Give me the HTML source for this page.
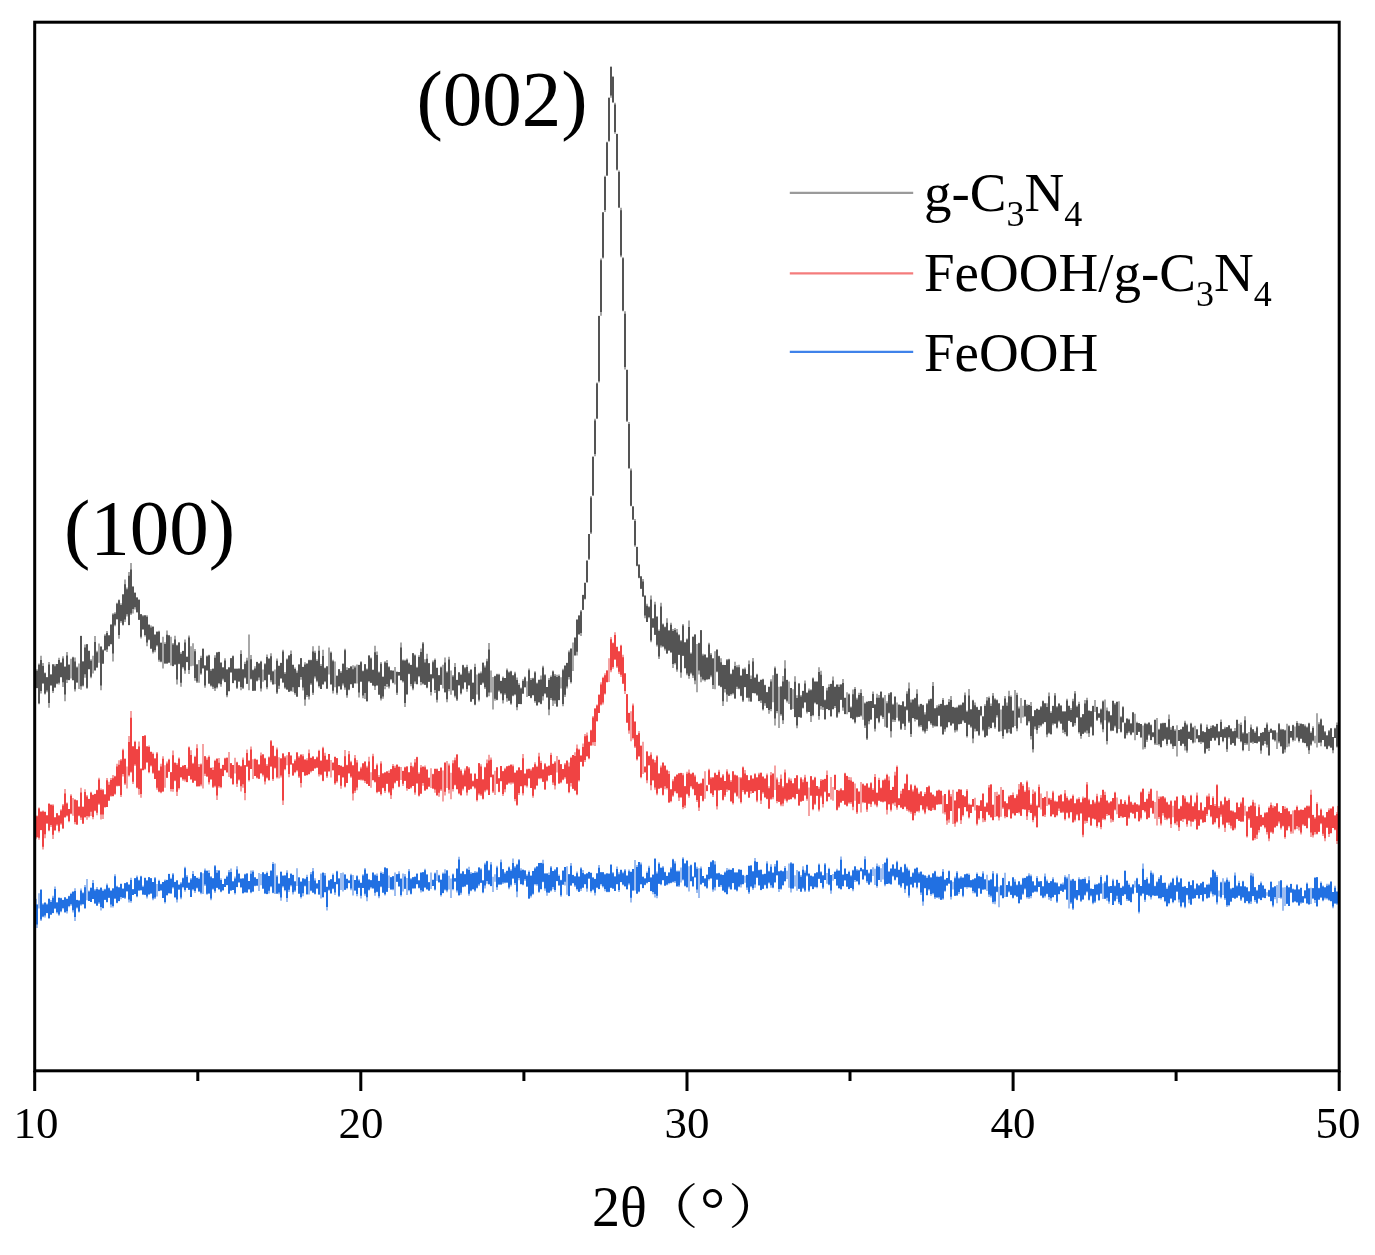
<!DOCTYPE html>
<html><head><meta charset="utf-8"><style>
html,body{margin:0;padding:0;background:#fff;}
svg{display:block;}
text{font-family:"Liberation Serif","Noto Serif CJK SC",serif;fill:#000;}
</style></head><body>
<svg width="1375" height="1255" viewBox="0 0 1375 1255">
<rect x="0" y="0" width="1375" height="1255" fill="#fff"/>
<g fill="none" stroke-linecap="butt" stroke-width="2">
<path d="M35.4,898.4V906.7M37.0,904.6V928.1M39.0,893.3V908.6M41.0,889.0V921.1M43.0,903.3V917.2M45.0,902.2V917.5M47.0,903.5V913.2M49.0,898.8V918.5M51.0,900.1V915.1M53.0,895.8V913.2M55.0,886.6V908.6M57.0,902.2V913.4M59.0,897.3V915.8M61.0,897.8V912.3M63.0,899.7V909.3M65.0,896.9V913.0M67.0,898.6V913.6M69.0,895.8V907.3M71.0,892.8V905.8M73.0,891.5V912.5M75.0,888.3V921.1M77.0,899.7V908.4M79.0,900.4V912.5M81.0,888.6V905.7M83.0,892.2V904.7M85.0,884.9V909.1M87.0,879.1V900.3M89.0,890.5V901.1M91.0,887.3V902.1M93.0,879.9V899.1M95.0,888.9V903.9M97.0,886.9V906.0M99.0,888.9V903.9M101.0,887.5V910.6M103.0,889.6V908.6M105.0,888.8V899.9M107.0,883.6V902.6M109.0,887.6V897.7M111.0,889.9V907.4M113.0,888.2V907.4M115.0,874.2V898.7M117.0,885.8V903.3M119.0,887.0V901.3M121.0,883.4V899.3M123.0,888.4V898.1M125.0,883.0V898.9M127.0,882.0V891.4M129.0,884.2V902.5M131.0,877.8V902.7M133.0,888.9V895.0M135.0,877.9V894.1M137.0,875.5V897.3M139.0,879.8V890.6M141.0,875.8V890.8M143.0,885.5V894.8M145.0,877.4V895.1M147.0,880.5V898.5M149.0,877.1V894.8M151.0,877.9V893.6M153.0,881.9V900.2M155.0,877.0V899.1M157.0,884.1V896.5M159.0,879.8V891.3M161.0,883.8V890.7M163.0,882.0V898.0M165.0,879.6V903.5M167.0,879.8V895.3M169.0,873.8V893.7M171.0,877.7V894.0M173.0,873.0V888.4M175.0,881.7V897.9M177.0,880.0V902.4M179.0,884.6V889.7M181.0,882.0V899.2M183.0,877.5V888.3M185.0,866.7V891.8M187.0,874.9V888.1M189.0,882.5V890.0M191.0,878.0V897.1M193.0,870.9V890.6M195.0,875.9V892.9M197.0,877.5V888.4M199.0,877.5V891.9M201.0,872.1V894.3M203.0,873.3V893.9M205.0,868.6V886.0M207.0,870.2V894.7M209.0,870.2V894.1M211.0,876.1V900.3M213.0,878.2V889.7M215.0,864.9V893.0M217.0,870.1V888.1M219.0,869.9V889.5M221.0,878.2V892.2M223.0,884.0V890.4M225.0,878.4V887.1M227.0,875.6V885.3M229.0,870.1V893.9M231.0,868.6V890.6M233.0,881.1V890.1M235.0,876.6V894.5M237.0,866.3V887.3M239.0,872.9V882.8M241.0,878.1V887.9M243.0,878.3V893.3M245.0,873.7V892.6M247.0,873.5V893.1M249.0,880.9V889.6M251.0,870.6V893.2M253.0,870.3V891.7M255.0,877.1V886.3M257.0,878.8V886.0M259.0,873.0V891.0M261.0,874.1V885.2M263.0,871.9V889.0M265.0,873.7V893.6M267.0,871.5V894.3M269.0,875.9V893.5M271.0,869.9V887.2M273.0,862.0V893.3M275.0,863.6V894.1M277.0,875.1V894.0M279.0,883.6V894.3M281.0,871.7V900.7M283.0,875.5V887.6M285.0,875.4V891.2M287.0,870.3V902.1M289.0,878.1V892.0M291.0,873.4V886.5M293.0,874.8V894.6M295.0,881.0V891.9M297.0,868.3V886.0M299.0,877.2V893.9M301.0,881.4V898.4M303.0,878.2V896.2M305.0,878.6V886.4M307.0,874.8V894.5M309.0,881.1V894.5M311.0,871.9V891.2M313.0,867.9V892.9M315.0,878.3V894.6M317.0,883.4V888.6M319.0,879.9V894.5M321.0,873.5V898.6M323.0,872.6V897.3M325.0,872.9V892.4M327.0,886.6V910.6M329.0,880.5V890.7M331.0,879.3V893.8M333.0,873.6V889.3M335.0,881.8V895.0M337.0,870.7V884.5M339.0,878.4V897.1M341.0,873.1V890.0M343.0,872.4V891.5M345.0,873.9V890.0M347.0,878.4V889.3M349.0,880.4V883.3M351.0,873.8V890.2M353.0,875.1V895.6M355.0,880.0V890.5M357.0,875.2V896.3M359.0,879.3V887.8M361.0,882.5V898.5M363.0,874.2V888.1M365.0,868.1V895.7M367.0,873.7V901.2M369.0,879.1V890.5M371.0,880.1V888.6M373.0,872.3V888.7M375.0,874.2V895.7M377.0,873.5V892.3M379.0,880.7V898.2M381.0,871.6V887.2M383.0,872.2V892.9M385.0,867.0V895.4M387.0,867.9V892.1M389.0,875.6V887.9M391.0,876.9V889.9M393.0,876.3V890.3M395.0,872.6V896.1M397.0,874.0V882.0M399.0,871.3V886.8M401.0,878.4V896.4M403.0,873.6V891.6M405.0,873.9V889.0M407.0,878.1V895.1M409.0,869.0V891.3M411.0,878.1V894.5M413.0,877.0V888.7M415.0,876.8V889.0M417.0,873.5V884.6M419.0,879.9V888.6M421.0,872.0V892.6M423.0,872.1V891.9M425.0,868.7V888.1M427.0,874.1V889.4M429.0,882.2V890.8M431.0,872.6V889.1M433.0,879.5V886.0M435.0,872.5V890.4M437.0,870.1V881.1M439.0,874.7V882.4M441.0,879.7V896.4M443.0,872.6V893.3M445.0,869.3V890.5M447.0,870.3V892.2M449.0,875.8V889.4M451.0,878.4V898.1M453.0,873.5V890.3M455.0,878.1V881.6M457.0,868.1V892.5M459.0,856.7V895.4M461.0,873.0V894.7M463.0,870.9V887.2M465.0,874.2V886.7M467.0,868.2V885.1M469.0,866.7V895.7M471.0,871.9V891.2M473.0,872.7V889.3M475.0,871.1V891.8M477.0,871.5V888.4M479.0,867.4V885.9M481.0,868.2V883.0M483.0,880.0V893.2M485.0,862.7V888.6M487.0,860.8V883.8M489.0,869.8V884.2M491.0,862.0V886.2M493.0,876.8V892.0M495.0,874.2V881.8M497.0,865.8V890.1M499.0,877.2V884.6M501.0,859.5V884.6M503.0,868.9V883.9M505.0,872.0V883.2M507.0,870.6V882.7M509.0,866.6V889.2M511.0,869.2V886.6M513.0,858.4V878.5M515.0,866.0V885.1M517.0,863.8V897.2M519.0,859.1V880.2M521.0,868.2V884.6M523.0,869.7V885.3M525.0,870.2V880.9M527.0,874.3V886.8M529.0,870.6V898.8M531.0,875.5V897.5M533.0,871.0V894.7M535.0,867.3V885.3M537.0,866.4V885.8M539.0,863.1V892.8M541.0,862.8V889.6M543.0,859.7V882.3M545.0,873.4V890.7M547.0,873.5V895.7M549.0,872.6V892.9M551.0,866.0V891.4M553.0,870.9V889.2M555.0,869.0V892.0M557.0,867.1V881.2M559.0,874.5V885.7M561.0,879.8V896.7M563.0,870.5V885.0M565.0,866.9V885.4M567.0,866.2V894.7M569.0,874.1V896.3M571.0,863.0V885.5M573.0,874.8V883.4M575.0,876.0V886.9M577.0,871.5V890.4M579.0,876.3V892.1M581.0,867.3V891.0M583.0,870.1V888.1M585.0,874.1V884.4M587.0,873.2V891.7M589.0,871.8V878.7M591.0,872.6V892.5M593.0,877.4V890.6M595.0,878.7V895.5M597.0,872.9V887.9M599.0,865.1V889.3M601.0,872.2V885.6M603.0,872.2V887.5M605.0,873.8V891.3M607.0,873.3V892.2M609.0,873.6V892.2M611.0,864.0V887.8M613.0,872.1V888.8M615.0,876.6V891.1M617.0,866.4V884.4M619.0,872.3V892.0M621.0,869.4V882.3M623.0,871.8V885.3M625.0,869.0V886.5M627.0,875.3V889.8M629.0,869.6V885.3M631.0,871.6V902.6M633.0,868.9V890.6M635.0,859.9V890.6M637.0,865.0V893.9M639.0,862.1V892.2M641.0,862.4V884.2M643.0,876.2V888.2M645.0,878.3V885.2M647.0,871.6V883.5M649.0,865.8V882.0M651.0,876.9V891.3M653.0,874.6V894.3M655.0,858.1V897.6M657.0,871.5V898.3M659.0,862.2V884.1M661.0,867.7V885.2M663.0,866.1V880.4M665.0,871.8V886.0M667.0,875.8V885.2M669.0,872.4V884.3M671.0,867.0V883.2M673.0,858.8V882.5M675.0,861.3V883.1M677.0,870.4V886.5M679.0,870.6V886.9M681.0,867.5V882.4M683.0,857.2V880.6M685.0,863.5V886.5M687.0,860.1V887.7M689.0,866.2V891.4M691.0,864.5V881.5M693.0,876.0V887.0M695.0,861.9V877.6M697.0,866.8V893.0M699.0,868.2V898.0M701.0,866.6V884.8M703.0,875.9V882.9M705.0,878.4V886.8M707.0,874.3V888.8M709.0,867.0V880.6M711.0,861.6V878.7M713.0,859.9V891.8M715.0,861.3V890.4M717.0,873.3V880.0M719.0,872.7V886.7M721.0,874.1V886.7M723.0,874.8V890.8M725.0,871.4V892.2M727.0,868.1V894.4M729.0,868.8V888.5M731.0,869.5V890.1M733.0,868.2V883.3M735.0,872.5V890.0M737.0,872.4V891.5M739.0,869.4V887.2M741.0,869.4V887.6M743.0,874.8V884.5M745.0,875.7V882.7M747.0,874.8V889.9M749.0,865.5V894.0M751.0,865.5V887.3M753.0,871.0V890.1M755.0,858.0V887.8M757.0,861.7V877.9M759.0,869.8V885.9M761.0,869.8V890.3M763.0,873.9V889.0M765.0,873.4V885.6M767.0,861.2V889.0M769.0,870.7V883.6M771.0,864.3V887.8M773.0,872.4V888.2M775.0,863.9V883.1M777.0,860.0V875.7M779.0,871.0V891.9M781.0,870.1V889.7M783.0,871.1V885.8M785.0,865.9V881.3M787.0,870.7V879.0M789.0,863.6V887.8M791.0,862.1V892.6M793.0,863.1V888.9M795.0,875.3V886.6M797.0,870.0V890.7M799.0,871.1V888.9M801.0,874.9V892.1M803.0,866.3V888.9M805.0,870.4V892.1M807.0,864.4V876.6M809.0,873.1V891.9M811.0,875.7V886.7M813.0,876.4V889.3M815.0,873.0V887.6M817.0,872.3V888.2M819.0,863.6V878.7M821.0,871.3V883.0M823.0,875.0V888.9M825.0,863.0V879.9M827.0,873.1V883.8M829.0,867.8V885.2M831.0,875.1V893.8M833.0,874.1V880.7M835.0,871.2V879.1M837.0,868.7V886.1M839.0,870.6V888.7M841.0,856.5V889.7M843.0,874.6V886.6M845.0,868.2V880.6M847.0,873.8V887.1M849.0,870.7V889.3M851.0,875.1V887.9M853.0,869.7V891.2M855.0,866.2V882.0M857.0,869.1V881.4M859.0,869.8V885.3M861.0,867.6V871.3M863.0,869.3V879.8M865.0,856.3V876.2M867.0,869.5V883.1M869.0,872.5V884.8M871.0,869.3V882.7M873.0,867.3V876.1M875.0,868.8V885.1M877.0,863.5V887.8M879.0,865.6V879.9M881.0,868.2V882.0M883.0,864.0V879.5M885.0,862.6V886.3M887.0,857.5V884.0M889.0,871.3V884.0M891.0,868.2V884.5M893.0,863.9V876.8M895.0,868.3V880.4M897.0,860.7V877.2M899.0,869.5V885.2M901.0,866.8V888.0M903.0,871.8V883.4M905.0,863.8V893.0M907.0,866.7V886.3M909.0,869.6V897.7M911.0,876.6V884.5M913.0,872.2V888.0M915.0,868.3V883.1M917.0,867.6V888.5M919.0,871.9V882.7M921.0,871.6V895.1M923.0,874.6V905.7M925.0,875.1V888.4M927.0,876.2V895.6M929.0,874.6V890.6M931.0,877.4V895.8M933.0,873.3V894.4M935.0,870.8V898.9M937.0,875.8V897.4M939.0,876.5V898.8M941.0,875.7V900.0M943.0,869.1V899.7M945.0,879.5V891.7M947.0,878.1V885.5M949.0,870.4V883.8M951.0,880.1V899.4M953.0,881.7V889.6M955.0,876.4V896.0M957.0,870.9V896.0M959.0,877.5V893.9M961.0,876.0V889.0M963.0,877.4V897.3M965.0,874.1V887.4M967.0,873.7V888.7M969.0,873.4V887.7M971.0,880.1V888.1M973.0,879.5V893.3M975.0,878.1V893.6M977.0,872.6V896.8M979.0,876.2V888.4M981.0,876.5V894.0M983.0,871.3V889.7M985.0,879.0V889.5M987.0,874.7V890.9M989.0,880.4V896.9M991.0,879.4V897.5M993.0,871.0V903.7M995.0,886.1V904.3M997.0,873.0V892.3M999.0,886.7V907.2M1001.0,885.2V895.8M1003.0,877.7V898.6M1005.0,872.7V896.9M1007.0,885.1V896.9M1009.0,881.0V892.4M1011.0,885.6V895.0M1013.0,876.9V898.6M1015.0,879.2V895.4M1017.0,884.6V896.9M1019.0,881.1V903.8M1021.0,883.8V899.6M1023.0,877.7V894.9M1025.0,877.8V889.4M1027.0,876.2V898.5M1029.0,873.2V898.9M1031.0,874.4V898.3M1033.0,881.2V892.6M1035.0,885.6V891.8M1037.0,876.0V892.3M1039.0,881.4V887.1M1041.0,881.1V895.6M1043.0,885.9V898.2M1045.0,873.6V897.5M1047.0,879.6V894.2M1049.0,882.8V899.8M1051.0,881.0V901.0M1053.0,877.3V897.5M1055.0,882.1V895.1M1057.0,882.3V903.0M1059.0,886.2V894.5M1061.0,883.5V890.8M1063.0,882.6V892.0M1065.0,875.3V890.1M1067.0,876.8V899.8M1069.0,874.1V908.5M1071.0,879.5V904.0M1073.0,878.8V910.0M1075.0,880.5V899.0M1077.0,890.0V900.2M1079.0,877.3V896.2M1081.0,879.4V902.1M1083.0,878.8V899.9M1085.0,877.2V895.7M1087.0,883.0V892.4M1089.0,876.3V900.6M1091.0,888.5V896.4M1093.0,889.1V904.3M1095.0,883.8V902.9M1097.0,884.1V895.3M1099.0,882.8V900.6M1101.0,875.1V893.5M1103.0,883.4V898.9M1105.0,881.1V898.8M1107.0,874.7V900.8M1109.0,886.6V903.7M1111.0,885.9V893.1M1113.0,878.8V905.1M1115.0,885.6V901.5M1117.0,879.5V899.1M1119.0,882.8V904.0M1121.0,887.6V905.2M1123.0,885.7V896.0M1125.0,870.7V894.7M1127.0,880.2V901.1M1129.0,883.6V901.0M1131.0,886.7V902.4M1133.0,884.5V894.2M1135.0,880.7V887.6M1137.0,877.7V892.8M1139.0,884.1V913.6M1141.0,885.9V896.3M1143.0,863.6V893.5M1145.0,879.8V902.0M1147.0,877.3V894.9M1149.0,882.8V896.2M1151.0,870.5V899.5M1153.0,872.8V895.9M1155.0,885.8V895.9M1157.0,881.2V895.9M1159.0,877.2V898.7M1161.0,874.9V899.6M1163.0,882.8V897.2M1165.0,882.3V902.3M1167.0,887.4V906.7M1169.0,883.4V904.2M1171.0,881.7V898.6M1173.0,877.7V903.3M1175.0,885.2V900.7M1177.0,875.6V891.7M1179.0,881.8V902.6M1181.0,878.5V907.4M1183.0,886.6V903.1M1185.0,886.1V908.3M1187.0,888.0V895.5M1189.0,881.3V903.2M1191.0,885.0V905.1M1193.0,880.1V898.7M1195.0,887.9V898.4M1197.0,883.4V895.2M1199.0,885.2V899.1M1201.0,883.0V895.1M1203.0,881.5V901.8M1205.0,886.9V894.3M1207.0,884.6V898.5M1209.0,883.5V897.6M1211.0,877.4V893.6M1213.0,869.6V896.5M1215.0,871.3V895.6M1217.0,874.9V904.6M1219.0,890.6V896.5M1221.0,881.7V898.4M1223.0,878.3V894.9M1225.0,881.3V900.0M1227.0,877.5V907.0M1229.0,880.5V906.2M1231.0,887.9V901.8M1233.0,887.4V898.0M1235.0,872.4V898.8M1237.0,885.2V897.8M1239.0,880.7V895.9M1241.0,885.9V900.9M1243.0,880.7V897.9M1245.0,886.6V903.3M1247.0,887.2V901.3M1249.0,891.0V904.2M1251.0,872.7V904.1M1253.0,873.5V896.3M1255.0,886.9V902.0M1257.0,889.7V903.9M1259.0,884.8V898.7M1261.0,881.4V900.3M1263.0,885.5V897.5M1265.0,888.4V898.2M1267.0,892.3V895.8M1269.0,889.7V897.1M1271.0,881.2V901.4M1273.0,887.3V907.2M1275.0,886.0V899.2M1277.0,885.1V903.2M1279.0,881.2V898.1M1281.0,880.1V898.8M1283.0,887.4V910.8M1285.0,887.3V905.9M1287.0,884.7V903.9M1289.0,887.3V906.1M1291.0,883.8V892.7M1293.0,888.4V902.4M1295.0,889.2V901.8M1297.0,883.9V903.1M1299.0,889.4V905.9M1301.0,887.5V903.7M1303.0,895.9V903.1M1305.0,890.3V898.5M1307.0,882.4V903.8M1309.0,888.0V904.8M1311.0,887.7V904.0M1313.0,888.1V898.6M1315.0,877.5V903.0M1317.0,877.1V907.1M1319.0,887.8V900.0M1321.0,881.6V897.9M1323.0,885.4V901.3M1325.0,887.1V899.4M1327.0,883.7V899.6M1329.0,883.7V900.7M1331.0,881.2V901.4M1333.0,892.1V908.3M1335.0,885.8V903.9M1337.0,891.3V904.7M1338.6,891.3V899.0" stroke="#9dbdf0"/>
<path d="M35.4,898.9V906.1M37.0,904.6V924.5M41.0,890.1V919.4M43.0,904.4V916.4M45.0,902.8V915.6M47.0,904.4V913.1M49.0,898.8V918.2M51.0,902.1V914.5M53.0,897.8V913.1M55.0,888.9V908.5M57.0,902.6V912.2M59.0,898.0V914.5M61.0,898.3V911.2M63.0,900.0V908.1M65.0,897.6V912.1M67.0,898.9V911.2M69.0,896.3V906.1M71.0,894.0V904.2M73.0,891.8V910.2M75.0,891.0V917.1M77.0,900.1V907.6M79.0,900.4V911.5M81.0,890.6V904.4M83.0,893.2V903.9M85.0,887.3V907.9M89.0,891.4V900.9M91.0,887.9V901.9M93.0,883.0V899.0M95.0,890.4V903.2M97.0,888.9V905.5M99.0,889.9V902.5M101.0,887.8V907.1M103.0,890.9V908.1M105.0,889.5V899.8M107.0,885.3V901.9M109.0,888.3V897.7M111.0,890.9V904.6M113.0,888.6V906.0M115.0,876.2V898.6M117.0,886.7V902.8M119.0,887.6V901.0M121.0,884.0V897.0M123.0,888.8V897.7M125.0,883.2V897.8M127.0,882.6V891.3M129.0,884.7V899.4M131.0,880.1V901.1M133.0,889.2V894.9M135.0,878.3V894.0M137.0,877.2V896.3M139.0,880.5V890.4M141.0,876.4V890.1M143.0,886.8V894.5M145.0,878.1V894.7M147.0,880.5V896.4M149.0,877.2V894.2M151.0,878.2V893.4M153.0,882.0V898.4M155.0,878.3V897.5M159.0,881.1V891.1M161.0,884.2V890.3M163.0,882.1V897.9M165.0,880.8V902.0M167.0,880.0V895.2M169.0,873.9V893.1M171.0,879.0V893.3M173.0,874.4V887.3M175.0,881.9V896.9M177.0,880.5V899.4M179.0,884.7V889.5M181.0,883.4V897.4M183.0,878.2V887.1M185.0,868.3V889.9M187.0,876.7V887.7M189.0,882.8V889.7M191.0,879.4V897.0M193.0,874.1V889.3M195.0,876.0V891.1M197.0,877.9V887.8M199.0,878.9V891.3M201.0,872.4V892.8M205.0,870.6V884.6M207.0,871.1V893.8M209.0,873.1V893.3M211.0,877.3V898.6M213.0,878.2V888.7M215.0,866.3V891.2M217.0,872.7V887.7M219.0,870.8V889.2M221.0,880.0V891.4M223.0,884.1V890.3M225.0,878.9V886.9M227.0,876.8V884.9M229.0,872.3V893.4M231.0,872.0V890.4M233.0,881.5V890.0M235.0,878.4V893.0M237.0,869.5V886.9M239.0,873.9V882.3M241.0,878.9V887.1M243.0,878.6V893.2M245.0,874.4V892.2M247.0,873.6V892.2M249.0,881.1V889.2M251.0,873.7V892.3M253.0,871.8V891.6M255.0,877.6V885.8M257.0,878.9V885.6M263.0,872.6V888.6M265.0,874.2V893.5M267.0,872.9V894.1M269.0,876.1V890.7M271.0,870.9V886.2M273.0,864.1V892.8M277.0,876.4V893.4M279.0,883.7V892.5M281.0,871.7V897.4M283.0,875.8V886.3M285.0,875.5V890.0M287.0,872.8V898.0M289.0,878.3V889.7M291.0,873.7V885.2M293.0,875.0V892.3M295.0,881.5V890.4M299.0,877.5V893.6M301.0,881.7V897.0M303.0,878.6V893.3M305.0,879.2V885.7M307.0,876.9V894.3M311.0,874.2V890.4M313.0,871.2V892.4M315.0,880.4V893.7M317.0,883.5V888.4M319.0,880.1V894.4M323.0,872.8V897.2M325.0,875.4V892.0M327.0,887.1V907.1M329.0,880.6V889.7M331.0,879.3V893.2M333.0,875.0V888.5M335.0,882.1V892.6M337.0,871.4V884.1M339.0,878.4V895.7M345.0,874.7V889.7M347.0,878.9V888.0M349.0,880.5V883.1M351.0,875.2V888.5M355.0,880.0V890.4M357.0,876.2V893.9M359.0,880.4V887.8M361.0,883.1V895.8M363.0,875.4V887.9M365.0,869.6V893.7M367.0,873.8V897.2M369.0,879.7V889.8M371.0,880.2V887.3M373.0,872.8V888.2M375.0,875.3V892.7M377.0,875.8V891.8M379.0,881.1V896.2M381.0,873.0V886.6M383.0,873.9V892.4M385.0,867.7V894.2M387.0,868.4V891.7M391.0,877.3V889.3M393.0,876.3V889.3M397.0,874.2V881.7M399.0,873.7V886.2M401.0,878.7V895.0M405.0,876.6V888.8M409.0,871.2V890.1M411.0,879.2V893.7M413.0,877.3V888.2M415.0,876.8V887.9M417.0,873.7V884.0M419.0,880.5V887.7M421.0,873.0V890.3M423.0,872.2V891.0M425.0,870.2V887.3M427.0,874.8V889.3M429.0,882.2V890.6M433.0,880.0V886.0M435.0,873.5V889.4M439.0,875.4V882.3M441.0,879.7V895.0M443.0,873.8V893.1M445.0,873.4V889.4M447.0,870.5V890.6M453.0,874.6V889.0M455.0,878.3V881.4M457.0,868.9V890.4M459.0,859.6V895.2M461.0,874.1V892.8M463.0,871.5V886.8M465.0,874.2V886.3M467.0,869.3V884.6M469.0,869.9V893.7M471.0,873.7V890.6M473.0,872.9V889.2M475.0,872.7V890.4M477.0,872.4V887.8M479.0,867.6V884.5M481.0,869.6V882.8M483.0,880.5V892.3M485.0,864.4V885.5M487.0,861.3V880.9M489.0,870.4V884.2M491.0,864.5V886.0M497.0,867.4V887.2M499.0,877.3V884.6M501.0,862.3V884.5M503.0,869.3V882.4M505.0,873.5V882.6M507.0,871.0V882.5M509.0,867.4V887.4M511.0,870.8V884.7M513.0,862.9V878.4M515.0,867.5V883.1M517.0,864.8V891.5M519.0,860.3V877.9M521.0,870.4V884.0M523.0,869.8V884.6M525.0,870.6V879.2M527.0,875.8V886.5M529.0,872.1V898.5M531.0,875.8V895.8M533.0,871.0V893.7M535.0,868.6V883.9M537.0,866.6V884.3M539.0,863.1V891.8M541.0,862.9V889.1M543.0,863.5V881.7M545.0,873.4V888.5M547.0,873.5V892.5M549.0,875.1V892.6M551.0,867.6V890.4M553.0,871.1V886.9M555.0,870.2V890.1M557.0,867.6V881.1M559.0,876.1V885.2M561.0,880.3V895.2M563.0,870.7V884.6M565.0,867.1V881.7M569.0,874.3V895.9M571.0,865.8V885.4M573.0,875.1V883.0M575.0,876.6V885.6M577.0,873.2V889.1M579.0,876.7V891.8M581.0,868.4V888.7M583.0,872.9V887.5M585.0,874.6V883.9M587.0,873.6V888.4M589.0,872.0V878.6M591.0,873.1V891.0M593.0,877.4V889.4M595.0,879.0V892.8M597.0,873.5V887.6M599.0,867.7V889.0M601.0,872.2V884.0M603.0,872.3V886.3M605.0,874.4V888.9M607.0,873.5V891.7M609.0,873.7V891.7M611.0,865.0V887.7M613.0,873.2V888.4M615.0,876.6V891.1M617.0,868.9V883.9M619.0,874.2V890.1M621.0,870.1V882.0M623.0,873.3V884.6M625.0,870.5V886.2M627.0,875.8V889.0M629.0,871.3V883.4M631.0,872.0V897.8M633.0,869.0V890.4M637.0,867.1V893.5M639.0,862.1V891.6M641.0,864.5V884.2M643.0,877.0V887.9M645.0,878.5V884.8M647.0,872.9V882.8M649.0,867.8V882.0M651.0,877.8V890.9M653.0,874.8V891.9M655.0,859.0V893.9M657.0,873.5V895.8M659.0,863.7V883.8M661.0,867.8V884.2M663.0,867.4V880.1M665.0,872.3V885.6M667.0,876.0V884.4M669.0,872.5V883.1M671.0,868.4V882.7M673.0,859.4V881.8M675.0,863.5V881.3M677.0,871.5V886.3M679.0,871.4V885.5M683.0,858.8V879.5M685.0,863.5V885.7M687.0,861.0V887.1M691.0,865.2V881.1M693.0,876.9V886.0M695.0,862.7V877.2M697.0,868.7V889.4M701.0,868.4V884.2M703.0,876.0V882.8M705.0,878.5V886.0M707.0,874.9V887.7M709.0,867.0V879.1M711.0,862.2V878.3M713.0,860.4V889.5M715.0,864.5V887.3M717.0,873.5V879.4M719.0,873.3V886.7M721.0,874.7V885.1M723.0,875.0V890.4M725.0,872.5V892.2M727.0,870.5V893.9M729.0,869.9V886.8M731.0,869.9V889.1M733.0,868.3V883.1M735.0,872.5V889.3M737.0,872.4V890.5M739.0,869.4V886.5M741.0,870.1V884.5M743.0,875.2V884.1M747.0,875.1V887.5M749.0,866.1V892.3M751.0,865.5V886.2M753.0,871.6V888.3M755.0,861.2V884.6M757.0,861.9V877.4M759.0,870.3V885.0M761.0,869.8V890.0M763.0,874.4V888.8M765.0,874.1V884.8M767.0,863.5V887.9M769.0,871.6V882.5M771.0,866.7V885.2M773.0,872.7V887.4M775.0,866.4V882.1M777.0,861.0V875.1M779.0,871.6V888.9M781.0,870.9V888.7M783.0,871.6V885.1M785.0,868.1V881.2M791.0,863.3V888.4M793.0,864.0V888.3M799.0,871.8V888.8M801.0,876.7V891.6M803.0,869.7V887.7M805.0,872.7V890.4M807.0,864.9V875.4M809.0,874.0V890.6M811.0,875.8V886.1M813.0,876.4V888.9M815.0,873.5V886.7M817.0,872.5V886.9M819.0,864.8V878.7M821.0,872.2V883.0M823.0,875.6V887.5M825.0,864.4V879.9M829.0,868.9V884.4M831.0,875.1V890.6M835.0,871.9V879.0M837.0,870.4V885.2M839.0,870.8V888.1M841.0,859.7V889.0M843.0,874.8V885.9M845.0,868.8V880.2M847.0,874.1V886.4M849.0,872.0V888.9M851.0,876.3V887.9M853.0,870.5V889.2M855.0,866.5V880.1M857.0,870.4V881.3M859.0,870.5V884.2M861.0,868.1V871.2M863.0,869.5V879.3M865.0,859.3V875.2M867.0,869.9V881.2M869.0,873.4V884.6M871.0,869.6V881.8M877.0,866.2V885.9M879.0,866.9V879.9M885.0,862.8V884.4M887.0,858.8V883.9M889.0,871.7V883.2M891.0,868.7V884.3M893.0,864.7V875.7M895.0,868.9V879.7M897.0,862.2V877.2M899.0,869.9V884.5M901.0,867.3V886.6M903.0,872.6V882.9M905.0,864.5V889.3M907.0,868.4V885.5M909.0,870.8V895.6M911.0,877.0V884.4M913.0,873.3V887.0M915.0,868.9V882.4M917.0,867.8V887.2M919.0,873.5V882.5M921.0,871.7V892.5M923.0,874.7V901.4M925.0,875.8V888.1M927.0,877.9V895.0M929.0,875.3V889.3M931.0,877.5V894.1M933.0,873.4V893.3M935.0,871.4V897.2M937.0,877.1V897.4M939.0,876.9V897.3M941.0,876.5V899.7M943.0,871.7V898.4M945.0,879.8V890.8M947.0,878.1V885.5M949.0,871.2V883.4M951.0,880.6V896.7M955.0,878.3V895.8M957.0,872.8V895.2M959.0,878.5V892.1M961.0,877.5V888.7M963.0,877.8V895.8M965.0,874.4V887.0M967.0,873.8V887.1M969.0,874.9V886.9M971.0,880.3V887.3M973.0,879.6V891.0M975.0,878.4V892.5M977.0,874.0V896.4M979.0,876.3V888.3M981.0,877.1V893.4M983.0,873.4V889.6M985.0,879.6V889.3M989.0,880.5V894.6M991.0,879.6V895.7M993.0,873.4V902.1M995.0,886.7V901.5M997.0,874.4V891.8M1001.0,885.6V894.9M1003.0,877.9V898.1M1007.0,885.1V896.7M1009.0,881.6V891.5M1011.0,886.3V894.7M1013.0,877.5V897.7M1015.0,881.8V895.2M1017.0,885.3V896.6M1019.0,881.5V902.9M1021.0,884.9V899.5M1023.0,878.4V893.8M1025.0,877.9V888.5M1027.0,876.6V896.9M1029.0,875.4V897.2M1031.0,876.2V895.9M1033.0,881.6V892.4M1035.0,885.6V891.6M1037.0,877.9V891.5M1039.0,881.5V887.1M1041.0,881.2V895.5M1043.0,886.4V897.6M1045.0,876.4V895.7M1047.0,881.2V893.8M1049.0,883.0V897.1M1051.0,881.3V898.2M1053.0,879.2V896.9M1055.0,882.7V894.7M1057.0,883.3V901.4M1059.0,886.4V894.0M1061.0,884.2V890.7M1063.0,884.4V891.8M1065.0,877.2V889.3M1067.0,878.5V899.4M1071.0,880.8V902.4M1073.0,879.2V908.5M1075.0,880.9V897.7M1077.0,890.1V899.8M1079.0,879.2V894.9M1081.0,879.5V900.8M1083.0,879.0V899.2M1085.0,879.1V894.7M1087.0,883.4V891.6M1089.0,880.3V899.7M1091.0,888.7V895.5M1093.0,889.1V902.7M1095.0,884.9V901.4M1097.0,884.4V894.5M1099.0,883.5V900.2M1101.0,877.0V893.4M1105.0,882.4V898.8M1107.0,875.6V897.8M1109.0,886.6V901.4M1111.0,886.1V893.1M1113.0,880.5V905.0M1115.0,886.3V900.7M1117.0,880.1V895.8M1119.0,882.9V902.3M1121.0,888.1V904.9M1123.0,886.5V895.7M1125.0,870.7V894.0M1127.0,881.0V898.9M1129.0,884.9V900.6M1131.0,887.6V902.1M1133.0,884.5V893.4M1137.0,878.4V892.7M1139.0,884.6V911.8M1141.0,886.1V895.5M1143.0,868.7V893.4M1145.0,880.1V899.7M1147.0,879.0V894.7M1149.0,883.7V895.5M1151.0,872.8V897.2M1153.0,874.5V894.9M1155.0,886.2V895.8M1157.0,882.3V895.6M1159.0,879.1V898.0M1161.0,875.5V898.0M1163.0,882.9V896.9M1165.0,883.1V901.1M1167.0,888.9V906.1M1169.0,885.6V903.1M1171.0,882.8V898.5M1173.0,878.8V901.9M1175.0,885.3V899.9M1177.0,877.4V891.6M1179.0,882.4V899.4M1181.0,878.5V906.3M1183.0,886.9V901.9M1185.0,886.6V906.8M1187.0,888.1V894.8M1189.0,881.9V899.6M1191.0,885.2V904.6M1193.0,880.4V898.6M1195.0,889.3V898.0M1197.0,883.8V894.9M1199.0,885.4V898.3M1201.0,883.4V895.1M1203.0,881.9V900.7M1205.0,887.7V893.9M1207.0,884.8V898.3M1209.0,884.7V897.4M1211.0,877.6V891.5M1213.0,870.0V894.2M1215.0,872.6V894.8M1217.0,876.9V902.2M1221.0,882.4V897.3M1225.0,882.4V898.3M1227.0,879.7V905.3M1229.0,881.9V905.1M1231.0,889.3V901.6M1233.0,887.9V897.8M1235.0,875.5V898.5M1237.0,886.3V897.6M1239.0,883.0V895.5M1241.0,886.5V899.5M1243.0,881.6V897.0M1245.0,886.6V902.8M1247.0,887.5V901.0M1249.0,891.4V902.9M1251.0,875.6V901.4M1253.0,876.6V895.9M1255.0,887.2V900.0M1257.0,890.7V902.7M1259.0,884.9V898.6M1261.0,883.2V899.9M1263.0,885.6V897.4M1265.0,888.9V897.9M1269.0,890.3V896.6M1271.0,882.0V901.1M1273.0,887.5V905.5M1275.0,886.4V897.1M1281.0,880.4V897.5M1287.0,886.1V903.7M1289.0,887.4V905.9M1291.0,884.0V892.4M1293.0,889.3V902.3M1295.0,889.8V901.2M1297.0,885.3V902.1M1299.0,889.4V905.3M1301.0,888.0V902.5M1303.0,896.2V902.4M1305.0,890.4V898.2M1307.0,883.8V903.2M1309.0,888.5V904.2M1313.0,888.3V898.6M1315.0,877.7V900.1M1317.0,877.2V905.9M1319.0,888.2V899.5M1321.0,883.1V897.2M1323.0,886.6V900.2M1325.0,887.6V897.8M1327.0,885.8V898.3M1329.0,885.3V899.8M1331.0,881.8V901.0M1333.0,892.1V906.6M1335.0,887.7V903.3M1337.0,891.7V903.4M1338.6,892.0V897.9" stroke="#2170e2"/>
<path d="M35.4,815.3V839.3M37.0,815.4V837.3M39.0,807.5V839.8M41.0,811.5V830.3M43.0,810.4V849.6M45.0,811.4V838.3M47.0,815.0V823.5M49.0,803.6V831.2M51.0,804.2V827.0M53.0,804.3V838.9M55.0,817.0V830.9M57.0,813.2V825.8M59.0,815.5V832.6M61.0,809.2V824.7M63.0,803.9V829.0M65.0,789.0V817.5M67.0,802.6V816.5M69.0,808.9V822.3M71.0,794.2V814.3M73.0,798.0V815.7M75.0,799.0V824.2M77.0,800.0V824.8M79.0,806.5V816.2M81.0,787.8V819.9M83.0,806.7V824.1M85.0,789.2V817.8M87.0,795.1V819.8M89.0,798.7V817.4M91.0,791.8V816.0M93.0,794.6V819.2M95.0,793.7V811.3M97.0,789.7V815.2M99.0,777.8V805.1M101.0,788.6V819.5M103.0,788.9V819.0M105.0,794.3V807.3M107.0,778.1V807.1M109.0,781.8V801.0M111.0,777.9V796.7M113.0,775.0V796.5M115.0,775.7V794.7M117.0,763.7V786.4M119.0,760.3V786.2M121.0,758.9V796.9M123.0,748.8V776.4M125.0,758.7V785.1M127.0,766.4V788.5M129.0,736.1V776.4M131.0,711.0V772.7M133.0,745.9V784.0M135.0,740.7V766.1M137.0,749.1V788.3M139.0,741.6V794.7M141.0,768.5V797.8M143.0,736.0V770.4M145.0,735.4V769.7M147.0,746.2V762.8M149.0,745.6V773.2M151.0,751.4V766.5M153.0,752.4V773.8M155.0,758.5V779.1M157.0,752.1V789.7M159.0,770.1V792.3M161.0,763.7V793.2M163.0,756.3V792.1M165.0,765.3V787.7M167.0,761.6V777.8M169.0,758.7V772.1M171.0,772.1V791.5M173.0,750.5V791.7M175.0,762.3V781.3M177.0,763.1V795.9M179.0,757.4V789.4M181.0,766.9V777.7M183.0,765.6V780.7M185.0,764.9V781.6M187.0,767.4V782.2M189.0,746.5V776.0M191.0,750.2V779.5M193.0,762.7V782.9M195.0,755.8V781.1M197.0,744.2V786.6M199.0,764.1V786.7M201.0,763.6V786.2M203.0,744.0V788.4M205.0,756.2V776.0M207.0,757.4V776.6M209.0,755.6V784.5M211.0,767.4V779.9M213.0,767.2V788.0M215.0,759.8V787.3M217.0,758.6V800.1M219.0,758.0V787.8M221.0,768.2V788.3M223.0,764.8V776.2M225.0,757.8V770.5M227.0,757.3V773.0M229.0,752.1V777.0M231.0,762.9V778.5M233.0,765.0V784.6M235.0,757.8V773.4M237.0,761.7V787.1M239.0,765.2V780.5M241.0,765.8V791.4M243.0,757.5V787.7M245.0,765.1V800.2M247.0,749.5V766.7M249.0,760.1V781.4M251.0,746.6V769.1M253.0,759.3V778.9M255.0,758.6V776.0M257.0,759.7V778.5M259.0,764.1V778.8M261.0,752.5V773.5M263.0,754.2V776.4M265.0,757.8V784.6M267.0,764.0V778.5M269.0,756.6V780.8M271.0,740.0V767.0M273.0,745.4V781.1M275.0,755.7V768.4M277.0,747.5V778.6M279.0,757.2V778.6M281.0,758.2V777.5M283.0,753.1V805.0M285.0,756.1V770.2M287.0,755.3V765.2M289.0,752.1V777.3M291.0,755.3V764.6M293.0,763.3V776.0M295.0,759.3V773.2M297.0,752.3V771.5M299.0,756.0V778.1M301.0,753.9V787.4M303.0,754.3V772.3M305.0,759.2V775.8M307.0,758.2V775.6M309.0,749.6V774.5M311.0,757.6V772.5M313.0,755.9V771.0M315.0,759.3V768.9M317.0,756.4V768.0M319.0,749.7V776.5M321.0,760.4V775.2M323.0,746.8V781.2M325.0,752.7V771.9M327.0,759.2V778.1M329.0,753.9V771.9M331.0,760.1V777.5M333.0,762.5V770.3M335.0,756.4V784.7M337.0,757.9V782.7M339.0,764.9V775.5M341.0,765.2V788.8M343.0,766.6V777.5M345.0,750.0V787.6M347.0,764.8V783.1M349.0,751.1V773.4M351.0,760.7V777.8M353.0,764.9V800.4M355.0,755.0V793.0M357.0,760.1V790.2M359.0,770.9V779.8M361.0,766.8V780.6M363.0,763.1V780.7M365.0,761.3V783.0M367.0,765.7V783.9M369.0,756.8V786.0M371.0,772.2V787.8M373.0,753.7V780.4M375.0,769.0V782.5M377.0,763.4V793.2M379.0,774.9V791.9M381.0,761.3V795.4M383.0,773.3V788.3M385.0,772.0V792.9M387.0,771.3V783.8M389.0,770.6V793.2M391.0,769.0V799.1M393.0,763.9V789.6M395.0,765.8V783.4M397.0,764.4V780.8M399.0,766.7V787.3M401.0,767.0V780.0M403.0,770.7V786.1M405.0,766.8V781.0M407.0,766.6V790.8M409.0,772.0V789.1M411.0,762.6V788.6M413.0,765.8V786.0M415.0,758.9V794.7M417.0,756.7V783.9M419.0,772.2V796.6M421.0,764.9V794.0M423.0,766.5V785.7M425.0,765.6V791.1M427.0,769.3V789.5M429.0,777.8V786.8M431.0,768.2V788.0M433.0,773.8V788.8M435.0,768.6V792.7M437.0,768.4V796.0M439.0,771.0V796.7M441.0,767.1V791.0M443.0,770.5V801.5M445.0,762.1V795.6M447.0,760.9V787.9M449.0,763.4V793.6M451.0,772.8V799.2M453.0,760.2V791.4M455.0,757.4V785.4M457.0,753.9V789.4M459.0,767.1V794.2M461.0,769.3V795.8M463.0,773.5V790.6M465.0,768.5V786.6M467.0,765.9V795.6M469.0,767.1V790.0M471.0,772.9V789.2M473.0,780.6V786.4M475.0,773.4V789.3M477.0,778.7V801.5M479.0,763.0V795.3M481.0,764.3V796.1M483.0,779.2V799.6M485.0,766.7V792.3M487.0,759.6V790.5M489.0,754.7V795.0M491.0,757.6V777.5M493.0,774.6V792.9M495.0,770.7V795.0M497.0,767.0V783.9M499.0,778.0V792.3M501.0,766.0V781.4M503.0,771.1V796.0M505.0,767.8V792.2M507.0,766.1V784.8M509.0,765.7V783.7M511.0,764.4V784.5M513.0,764.5V783.7M515.0,772.2V801.2M517.0,769.9V805.8M519.0,767.0V794.9M521.0,770.1V786.4M523.0,753.9V795.6M525.0,772.9V786.3M527.0,768.7V787.5M529.0,768.4V778.8M531.0,768.8V788.0M533.0,767.0V797.7M535.0,762.2V789.8M537.0,765.8V785.6M539.0,752.7V779.3M541.0,760.7V779.3M543.0,769.4V781.7M545.0,762.9V790.0M547.0,766.4V781.5M549.0,765.3V775.6M551.0,752.8V775.1M553.0,763.4V784.9M555.0,761.1V789.4M557.0,756.1V772.6M559.0,759.5V783.5M561.0,764.1V783.3M563.0,769.1V780.3M565.0,763.1V778.8M567.0,759.9V784.1M569.0,762.5V793.2M571.0,756.8V786.5M573.0,755.0V789.0M575.0,752.2V791.0M577.0,744.4V795.3M579.0,748.8V781.5M581.0,755.2V762.0M583.0,743.4V767.0M585.0,733.9V762.0M587.0,732.5V756.7M589.0,741.5V759.3M591.0,729.7V745.9M593.0,716.1V745.5M595.0,708.4V746.1M597.0,704.6V721.2M599.0,694.3V713.1M601.0,682.2V705.5M603.0,676.7V704.6M605.0,673.3V694.6M607.0,670.4V682.6M609.0,658.3V682.0M611.0,637.0V672.2M613.0,642.6V668.7M615.0,632.3V659.6M617.0,646.4V668.1M619.0,651.0V673.9M621.0,644.7V677.1M623.0,654.8V684.0M625.0,673.1V694.1M627.0,694.1V722.9M629.0,712.8V733.8M631.0,711.3V741.2M633.0,703.4V739.4M635.0,721.1V748.1M637.0,734.8V760.5M639.0,731.0V756.4M641.0,745.3V778.2M643.0,741.8V774.0M645.0,765.9V772.4M647.0,751.4V783.2M649.0,755.8V765.7M651.0,752.3V790.2M653.0,758.8V780.5M655.0,760.0V789.7M657.0,755.3V795.3M659.0,773.4V789.0M661.0,765.6V788.2M663.0,762.1V795.4M665.0,765.4V789.3M667.0,769.4V789.4M669.0,770.9V802.5M671.0,789.0V802.3M673.0,779.3V796.8M675.0,776.1V792.4M677.0,774.4V793.3M679.0,773.1V801.1M681.0,772.8V797.9M683.0,773.3V809.3M685.0,785.9V808.0M687.0,771.7V794.6M689.0,769.4V797.8M691.0,773.5V787.5M693.0,772.7V789.4M695.0,774.7V795.6M697.0,781.7V802.0M699.0,783.4V811.1M701.0,782.7V796.1M703.0,778.3V801.5M705.0,771.2V798.7M707.0,785.1V791.3M709.0,768.8V785.1M711.0,777.0V793.7M713.0,777.5V796.9M715.0,772.6V790.8M717.0,774.8V809.5M719.0,769.7V790.4M721.0,777.4V790.0M723.0,774.1V800.6M725.0,780.9V796.9M727.0,769.2V792.1M729.0,773.5V790.6M731.0,780.0V802.1M733.0,771.1V804.6M735.0,774.5V793.5M737.0,775.2V796.7M739.0,777.3V798.4M741.0,776.9V803.4M743.0,766.6V792.0M745.0,769.9V794.7M747.0,775.3V791.9M749.0,780.0V797.7M751.0,775.4V793.8M753.0,778.6V793.1M755.0,773.2V791.5M757.0,777.2V802.3M759.0,772.8V790.1M761.0,772.7V803.9M763.0,776.0V793.8M765.0,778.2V798.1M767.0,773.5V799.2M769.0,786.3V809.1M771.0,772.0V799.8M773.0,773.2V799.2M775.0,765.5V789.9M777.0,777.5V803.3M779.0,782.1V801.9M781.0,774.6V806.2M783.0,786.0V806.2M785.0,769.4V800.5M787.0,782.7V802.4M789.0,777.5V799.7M791.0,778.4V799.4M793.0,782.9V797.8M795.0,778.0V799.6M797.0,774.9V794.1M799.0,788.2V806.1M801.0,777.1V801.4M803.0,779.4V800.7M805.0,774.8V795.9M807.0,781.6V800.7M809.0,787.5V815.9M811.0,776.1V795.8M813.0,779.6V810.2M815.0,776.7V804.9M817.0,785.9V795.8M819.0,786.7V811.6M821.0,779.0V797.5M823.0,779.7V807.5M825.0,778.8V792.3M827.0,770.4V801.7M829.0,793.2V796.9M831.0,776.9V799.5M833.0,786.9V800.7M835.0,774.5V789.9M837.0,789.9V810.4M839.0,789.8V807.7M841.0,788.1V802.4M843.0,790.1V800.9M845.0,772.8V804.8M847.0,775.7V806.6M849.0,777.0V803.8M851.0,777.3V804.1M853.0,781.5V810.3M855.0,783.4V800.7M857.0,787.9V814.1M859.0,791.1V803.9M861.0,782.1V812.6M863.0,783.5V803.2M865.0,785.5V802.9M867.0,783.4V812.0M869.0,786.8V804.1M871.0,782.2V807.1M873.0,788.2V801.7M875.0,774.1V805.2M877.0,792.8V807.3M879.0,777.7V800.9M881.0,787.4V801.8M883.0,779.7V802.5M885.0,778.6V802.0M887.0,773.7V814.4M889.0,776.5V804.2M891.0,789.9V811.6M893.0,786.7V804.5M895.0,771.7V805.9M897.0,765.5V809.8M899.0,798.0V805.3M901.0,790.7V807.6M903.0,788.5V809.3M905.0,783.5V807.2M907.0,773.7V811.0M909.0,789.9V812.3M911.0,784.1V813.7M913.0,789.4V820.2M915.0,784.8V815.6M917.0,787.5V811.5M919.0,792.6V812.4M921.0,791.0V805.6M923.0,796.3V810.6M925.0,791.9V814.3M927.0,787.1V808.8M929.0,785.6V810.4M931.0,792.3V811.0M933.0,794.5V810.1M935.0,795.8V810.3M937.0,790.3V804.7M939.0,789.4V804.7M941.0,790.6V804.4M943.0,795.5V813.4M945.0,794.0V814.4M947.0,804.0V824.7M949.0,789.4V822.7M951.0,794.0V811.1M953.0,789.8V824.0M955.0,800.2V826.7M957.0,791.6V822.4M959.0,789.0V808.2M961.0,789.6V823.9M963.0,794.9V816.6M965.0,795.9V807.3M967.0,788.9V811.7M969.0,803.5V818.6M971.0,804.7V813.0M973.0,798.9V807.0M975.0,797.7V810.5M977.0,805.2V825.5M979.0,805.5V819.7M981.0,800.1V811.0M983.0,793.0V822.2M985.0,806.4V821.9M987.0,802.3V812.3M989.0,785.1V815.2M991.0,784.5V817.7M993.0,804.7V820.6M995.0,792.0V817.0M997.0,791.7V816.3M999.0,794.5V820.4M1001.0,787.1V816.7M1003.0,789.8V809.1M1005.0,801.2V818.2M1007.0,803.1V817.3M1009.0,795.5V810.2M1011.0,795.2V818.9M1013.0,792.4V814.3M1015.0,797.7V816.1M1017.0,794.1V813.1M1019.0,783.9V813.4M1021.0,781.9V815.8M1023.0,784.3V809.6M1025.0,790.4V810.0M1027.0,780.5V819.9M1029.0,787.2V812.2M1031.0,803.6V813.1M1033.0,789.5V822.3M1035.0,791.3V817.5M1037.0,804.7V827.7M1039.0,784.4V807.4M1041.0,793.5V809.4M1043.0,798.0V816.5M1045.0,796.7V817.0M1047.0,791.2V806.0M1049.0,797.8V805.2M1051.0,798.2V816.8M1053.0,790.7V814.6M1055.0,800.5V817.4M1057.0,801.1V816.2M1059.0,795.3V811.0M1061.0,794.2V812.8M1063.0,801.0V813.1M1065.0,789.9V820.4M1067.0,796.3V813.3M1069.0,799.6V818.6M1071.0,798.4V812.5M1073.0,794.5V822.5M1075.0,802.9V821.6M1077.0,798.4V815.6M1079.0,797.3V820.2M1081.0,802.2V813.9M1083.0,796.4V837.3M1085.0,797.7V823.7M1087.0,782.1V823.0M1089.0,798.7V817.6M1091.0,804.1V825.5M1093.0,799.7V819.0M1095.0,801.8V819.6M1097.0,793.7V827.8M1099.0,801.3V822.7M1101.0,795.1V829.2M1103.0,789.5V820.0M1105.0,791.7V820.2M1107.0,800.0V816.1M1109.0,802.3V815.4M1111.0,801.4V822.5M1113.0,798.0V822.1M1115.0,791.8V810.4M1117.0,797.5V814.3M1119.0,803.8V818.1M1121.0,798.9V817.6M1123.0,803.7V817.8M1125.0,800.0V817.1M1127.0,803.7V825.8M1129.0,794.7V818.8M1131.0,801.5V812.7M1133.0,803.6V813.7M1135.0,802.1V818.5M1137.0,804.1V812.1M1139.0,804.6V821.7M1141.0,791.6V819.4M1143.0,788.3V810.2M1145.0,801.7V812.6M1147.0,798.6V819.5M1149.0,791.6V817.8M1151.0,788.4V808.3M1153.0,800.5V814.1M1155.0,802.0V818.8M1157.0,790.7V825.4M1159.0,796.6V819.1M1161.0,796.2V825.5M1163.0,796.1V815.4M1165.0,797.3V820.0M1167.0,801.7V820.2M1169.0,804.6V818.7M1171.0,800.2V828.0M1173.0,805.8V817.3M1175.0,799.9V824.5M1177.0,796.5V825.2M1179.0,808.6V831.0M1181.0,805.8V820.9M1183.0,795.1V821.9M1185.0,796.2V819.6M1187.0,801.7V826.8M1189.0,802.2V820.9M1191.0,794.7V826.4M1193.0,806.1V822.0M1195.0,801.7V820.4M1197.0,792.6V829.9M1199.0,810.2V826.0M1201.0,802.1V819.6M1203.0,809.8V822.5M1205.0,807.0V822.2M1207.0,795.5V816.0M1209.0,793.6V810.2M1211.0,805.0V817.2M1213.0,796.3V825.0M1215.0,804.1V823.6M1217.0,784.2V818.4M1219.0,806.0V828.8M1221.0,800.7V816.8M1223.0,804.1V825.3M1225.0,796.4V831.9M1227.0,800.6V823.0M1229.0,798.3V824.9M1231.0,809.9V828.5M1233.0,810.4V830.2M1235.0,812.3V829.4M1237.0,802.4V819.2M1239.0,807.2V820.9M1241.0,801.8V821.8M1243.0,796.9V822.0M1245.0,805.7V815.7M1247.0,811.5V837.5M1249.0,806.6V819.7M1251.0,805.4V828.1M1253.0,799.7V840.5M1255.0,802.7V839.8M1257.0,816.1V838.9M1259.0,804.5V832.6M1261.0,814.8V826.6M1263.0,816.9V825.6M1265.0,812.3V828.6M1267.0,812.2V834.6M1269.0,806.5V841.3M1271.0,802.6V832.8M1273.0,805.5V834.0M1275.0,805.9V827.9M1277.0,803.1V826.2M1279.0,811.6V823.6M1281.0,812.9V829.6M1283.0,805.9V826.4M1285.0,806.5V838.7M1287.0,807.8V830.8M1289.0,811.1V827.6M1291.0,813.9V833.8M1293.0,810.4V833.4M1295.0,809.8V830.3M1297.0,805.6V829.1M1299.0,809.9V830.5M1301.0,809.6V834.6M1303.0,809.7V825.5M1305.0,807.3V825.8M1307.0,805.4V828.5M1309.0,805.6V818.6M1311.0,789.8V836.9M1313.0,814.8V837.4M1315.0,817.0V834.6M1317.0,802.3V834.4M1319.0,814.9V831.8M1321.0,808.4V824.2M1323.0,815.0V836.1M1325.0,817.0V841.2M1327.0,812.1V828.1M1329.0,808.2V837.1M1331.0,808.2V833.6M1333.0,805.9V828.0M1335.0,815.0V830.2M1337.0,812.1V844.0M1338.6,805.8V824.3" stroke="#f5a3a3"/>
<path d="M35.4,818.3V838.8M37.0,816.2V837.3M39.0,808.5V837.8M41.0,811.8V829.9M43.0,811.5V846.8M45.0,812.1V834.2M47.0,815.6V823.4M49.0,803.7V830.3M51.0,804.9V825.1M53.0,805.5V834.8M55.0,817.4V830.1M57.0,813.2V824.4M59.0,815.5V830.9M61.0,810.5V823.6M63.0,805.5V828.2M65.0,793.5V817.3M67.0,803.5V815.4M69.0,809.0V821.0M71.0,795.7V813.5M75.0,800.1V822.1M77.0,800.6V824.6M79.0,806.7V815.6M81.0,792.5V817.5M83.0,806.8V823.4M85.0,792.0V816.9M87.0,796.4V816.1M89.0,798.9V816.2M91.0,792.7V811.7M93.0,794.9V817.0M95.0,794.1V810.5M97.0,790.2V812.7M99.0,779.6V803.7M101.0,789.9V814.4M103.0,790.3V814.4M105.0,794.4V807.2M107.0,780.2V807.1M109.0,784.8V800.4M111.0,780.0V795.8M113.0,778.2V795.9M115.0,776.6V793.8M117.0,766.6V785.7M119.0,764.7V785.7M121.0,760.4V794.9M123.0,750.3V774.0M125.0,758.8V783.6M129.0,742.0V775.3M131.0,717.7V771.8M133.0,746.6V781.7M135.0,741.9V764.6M137.0,749.3V787.6M139.0,746.4V788.9M141.0,768.8V794.1M143.0,736.1V769.9M145.0,735.6V768.8M147.0,746.4V762.2M149.0,746.9V771.9M151.0,751.9V765.6M153.0,753.9V772.7M155.0,758.6V778.9M157.0,753.6V787.7M159.0,771.1V791.4M161.0,766.4V792.2M163.0,758.8V791.3M167.0,763.6V777.8M169.0,759.8V771.8M171.0,772.2V788.9M173.0,755.3V789.1M175.0,762.9V780.4M177.0,764.8V791.7M179.0,758.8V787.9M181.0,767.2V777.0M183.0,765.7V779.3M185.0,765.1V779.6M187.0,769.0V782.1M189.0,747.4V775.8M191.0,755.1V779.3M193.0,763.7V782.6M195.0,756.9V780.6M197.0,748.2V786.2M199.0,767.1V785.9M201.0,764.5V784.5M205.0,756.3V773.7M207.0,759.8V776.4M209.0,756.9V782.2M211.0,768.1V779.0M213.0,769.9V786.7M215.0,760.9V785.7M217.0,758.8V795.6M219.0,762.8V786.3M221.0,768.9V787.0M223.0,765.1V776.0M225.0,758.5V770.1M227.0,758.1V772.0M231.0,763.3V778.3M233.0,765.0V784.3M237.0,762.6V783.7M239.0,765.2V779.5M241.0,766.6V786.2M243.0,759.7V784.2M245.0,765.3V793.0M247.0,753.0V766.6M249.0,761.0V780.1M251.0,749.6V768.9M255.0,759.3V776.0M257.0,759.8V777.4M259.0,764.7V778.7M261.0,755.4V773.3M263.0,754.6V774.8M265.0,758.5V781.5M267.0,765.7V777.5M269.0,757.5V780.1M271.0,741.3V766.2M273.0,745.9V778.9M275.0,756.2V767.7M277.0,749.5V777.2M281.0,758.6V775.5M283.0,753.8V800.6M285.0,757.6V769.0M289.0,752.2V774.0M291.0,755.8V764.6M293.0,763.6V775.3M295.0,760.7V772.1M297.0,752.5V770.2M299.0,757.4V776.5M301.0,754.9V783.1M303.0,756.2V772.1M305.0,759.8V775.4M307.0,760.2V775.1M309.0,753.3V774.0M311.0,758.0V771.3M313.0,756.7V770.7M315.0,759.3V768.0M317.0,757.4V767.4M319.0,751.1V774.2M321.0,760.7V774.4M323.0,748.3V780.8M325.0,755.8V771.2M327.0,760.0V776.2M329.0,754.0V771.0M333.0,762.7V770.3M335.0,757.1V783.2M337.0,758.2V781.3M339.0,765.0V775.1M341.0,765.9V785.7M343.0,767.0V777.3M345.0,756.2V786.4M347.0,765.2V783.0M349.0,754.2V773.3M351.0,762.2V776.5M353.0,765.4V793.4M355.0,758.3V790.7M357.0,762.6V787.4M359.0,771.8V779.8M361.0,768.4V779.6M363.0,763.6V779.7M365.0,761.7V781.1M367.0,767.6V783.8M369.0,761.4V786.0M373.0,756.3V779.9M375.0,769.3V781.8M377.0,765.2V791.9M379.0,776.9V791.4M381.0,763.4V794.0M383.0,773.6V787.8M385.0,772.7V791.0M387.0,771.4V783.7M389.0,773.0V791.7M391.0,769.3V795.2M393.0,766.1V788.1M395.0,767.8V782.4M397.0,764.7V780.7M399.0,766.8V786.4M403.0,771.0V783.7M405.0,767.4V780.8M407.0,766.6V788.3M409.0,772.5V789.0M411.0,765.9V787.5M413.0,767.2V785.9M415.0,762.4V792.6M417.0,757.3V783.0M419.0,773.8V795.6M421.0,767.5V793.6M423.0,766.7V783.0M425.0,767.3V790.2M427.0,769.7V789.0M429.0,777.8V786.5M433.0,774.2V788.5M435.0,768.9V789.4M437.0,769.3V795.1M439.0,771.0V792.7M441.0,768.0V789.6M445.0,763.1V791.8M449.0,765.6V789.8M453.0,763.3V789.1M455.0,760.3V784.8M457.0,754.8V789.1M459.0,767.7V793.3M461.0,770.8V794.9M463.0,775.3V788.8M465.0,770.6V786.2M467.0,766.6V792.4M469.0,768.6V789.8M471.0,774.1V788.8M473.0,781.2V786.2M475.0,773.8V787.8M477.0,779.1V800.0M479.0,763.3V793.6M481.0,766.4V794.4M483.0,779.6V798.7M485.0,767.4V790.5M487.0,763.2V789.5M489.0,760.4V794.9M491.0,759.8V777.1M493.0,774.7V791.6M497.0,767.6V783.8M499.0,778.5V791.7M501.0,766.1V781.0M503.0,771.3V793.9M505.0,769.2V789.3M507.0,766.5V784.5M509.0,765.8V782.7M511.0,764.8V782.6M513.0,766.3V782.4M515.0,773.1V798.9M517.0,770.7V804.7M519.0,767.7V792.9M521.0,770.2V786.1M523.0,758.2V793.2M525.0,774.0V784.9M527.0,769.5V785.7M529.0,769.0V778.1M531.0,770.4V787.9M533.0,767.5V795.7M535.0,764.3V788.7M537.0,767.0V785.5M539.0,756.5V778.3M541.0,762.9V778.1M543.0,769.4V781.7M545.0,764.2V789.2M547.0,766.8V780.4M549.0,766.1V775.5M551.0,755.1V775.0M553.0,763.9V782.6M555.0,762.4V785.5M559.0,760.0V783.4M561.0,764.3V782.2M563.0,769.1V779.5M565.0,764.6V777.3M567.0,761.1V783.5M569.0,766.6V791.9M571.0,758.1V783.1M573.0,755.1V788.8M575.0,756.0V790.3M577.0,748.5V794.3M579.0,749.8V780.2M581.0,755.8V761.7M583.0,747.0V765.9M585.0,736.3V759.9M587.0,735.5V755.9M589.0,741.9V758.3M591.0,730.4V745.3M593.0,717.4V742.3M595.0,708.5V742.0M597.0,705.6V721.2M599.0,695.1V712.9M601.0,684.6V704.4M603.0,678.1V702.6M605.0,675.3V693.4M607.0,670.4V682.0M611.0,639.3V670.3M613.0,643.2V667.1M615.0,634.9V659.5M617.0,647.1V666.5M619.0,651.4V671.7M621.0,645.7V674.8M623.0,657.2V683.5M625.0,673.6V691.1M627.0,694.2V722.4M629.0,713.0V730.5M633.0,705.4V738.1M635.0,721.9V746.6M637.0,734.9V759.3M639.0,733.3V756.3M641.0,746.0V777.1M645.0,767.0V772.3M647.0,751.6V780.2M649.0,756.3V764.9M651.0,754.7V785.3M653.0,759.6V780.3M655.0,762.4V787.6M657.0,756.5V793.4M659.0,773.4V788.6M661.0,767.6V787.8M663.0,762.9V794.8M665.0,765.7V786.3M667.0,770.4V787.9M669.0,774.1V802.5M671.0,789.4V800.9M673.0,781.2V795.6M675.0,776.9V791.0M677.0,774.8V793.3M679.0,773.4V797.4M681.0,772.9V796.9M683.0,775.3V807.1M685.0,786.2V805.4M687.0,773.8V793.7M689.0,772.8V795.8M691.0,774.2V786.1M693.0,772.8V788.7M695.0,776.4V795.1M697.0,782.2V800.1M699.0,784.0V807.6M701.0,783.4V795.7M703.0,779.0V800.8M707.0,785.6V791.1M709.0,770.3V784.5M711.0,778.4V792.9M713.0,777.5V794.9M715.0,773.2V789.9M717.0,775.0V806.3M719.0,771.7V790.2M721.0,777.7V789.9M723.0,775.5V799.7M725.0,781.1V795.2M727.0,771.4V789.4M729.0,774.7V790.0M731.0,781.7V800.9M733.0,771.4V802.9M735.0,775.3V792.4M737.0,775.7V795.7M741.0,778.2V802.0M743.0,767.5V790.1M745.0,773.5V793.7M747.0,775.3V791.6M749.0,780.3V797.5M751.0,775.5V790.9M753.0,778.8V792.9M755.0,774.2V791.1M757.0,777.5V800.6M759.0,774.5V789.9M761.0,772.7V800.6M763.0,777.1V792.2M765.0,778.8V797.0M767.0,775.2V798.7M769.0,788.2V808.6M771.0,775.3V798.8M773.0,773.7V797.3M777.0,779.6V801.0M779.0,785.1V801.7M781.0,778.8V804.4M783.0,787.4V803.4M785.0,772.5V798.8M787.0,783.3V800.7M789.0,779.4V799.4M791.0,780.8V799.1M793.0,783.5V796.9M795.0,778.3V798.6M797.0,775.5V794.1M799.0,789.6V805.3M801.0,778.4V801.4M803.0,782.3V800.7M805.0,777.4V795.0M807.0,782.0V798.7M811.0,776.3V795.5M813.0,780.2V808.9M815.0,777.7V803.7M817.0,786.0V795.8M819.0,788.7V809.6M821.0,780.7V795.7M823.0,779.8V804.0M825.0,779.0V791.5M827.0,775.1V800.9M829.0,793.2V796.6M835.0,775.1V789.6M837.0,790.1V809.8M839.0,790.9V806.6M841.0,789.5V802.4M843.0,790.4V800.7M845.0,773.5V804.6M847.0,775.9V805.7M849.0,779.9V802.4M851.0,780.5V802.2M853.0,782.0V806.8M857.0,788.8V812.3M859.0,792.0V803.8M863.0,784.3V802.1M865.0,785.8V802.4M867.0,783.6V809.5M869.0,788.1V803.4M871.0,783.3V804.2M873.0,789.9V801.2M875.0,777.0V803.8M877.0,792.8V805.4M879.0,780.0V800.6M881.0,788.2V801.6M883.0,780.4V801.8M885.0,779.7V801.1M887.0,774.9V809.8M889.0,780.5V804.2M891.0,790.0V809.8M893.0,786.9V803.2M895.0,775.6V802.5M897.0,767.1V807.4M899.0,798.6V805.0M901.0,793.8V807.6M903.0,789.1V808.9M905.0,783.8V806.4M907.0,774.8V809.3M909.0,790.2V810.4M911.0,785.3V811.7M913.0,791.6V820.2M915.0,786.1V812.9M917.0,788.4V811.3M919.0,794.0V810.8M921.0,791.8V805.1M923.0,796.3V809.3M925.0,794.0V812.5M927.0,787.3V806.5M929.0,786.5V810.0M931.0,792.7V810.8M933.0,794.7V807.7M935.0,796.5V809.7M937.0,791.1V804.5M939.0,790.2V803.9M941.0,791.0V804.1M945.0,794.1V812.2M947.0,804.0V820.5M949.0,790.6V819.6M951.0,796.4V811.0M955.0,800.8V823.6M957.0,792.0V821.4M959.0,789.4V808.2M961.0,789.8V820.3M963.0,795.2V814.9M965.0,796.8V807.0M967.0,790.7V811.0M969.0,804.7V817.2M971.0,804.8V812.9M973.0,798.9V806.4M977.0,805.2V823.8M979.0,805.7V818.3M981.0,800.6V810.9M983.0,793.9V818.2M985.0,806.8V820.2M987.0,803.2V811.7M989.0,787.4V814.7M991.0,784.6V816.9M993.0,804.7V819.9M997.0,795.9V816.2M999.0,794.7V817.5M1003.0,790.1V807.4M1005.0,801.5V816.2M1007.0,803.5V816.9M1009.0,796.7V808.9M1011.0,795.3V818.0M1013.0,795.0V813.1M1015.0,798.3V815.0M1017.0,795.6V812.9M1019.0,789.6V812.3M1021.0,782.4V815.8M1023.0,786.0V808.9M1025.0,792.1V809.2M1027.0,782.2V816.2M1029.0,790.3V809.9M1031.0,804.9V813.1M1033.0,793.9V820.1M1035.0,792.6V815.7M1037.0,805.9V826.9M1039.0,786.9V807.3M1043.0,798.1V815.9M1045.0,797.1V814.8M1049.0,798.4V804.3M1051.0,800.0V816.1M1053.0,792.6V814.3M1055.0,801.6V817.0M1057.0,801.9V814.9M1059.0,796.0V808.6M1061.0,794.7V812.4M1063.0,801.8V811.7M1065.0,793.5V819.1M1067.0,798.0V812.4M1069.0,800.5V817.6M1071.0,798.7V812.1M1073.0,796.1V822.3M1075.0,803.6V819.7M1077.0,799.5V814.2M1079.0,799.0V820.2M1081.0,802.4V813.1M1083.0,798.4V834.7M1085.0,797.8V820.8M1087.0,784.6V821.1M1089.0,800.3V817.3M1091.0,804.4V825.4M1093.0,800.3V818.2M1095.0,803.4V819.3M1097.0,796.2V826.1M1099.0,802.6V822.0M1101.0,797.7V826.9M1103.0,790.1V818.6M1105.0,794.9V819.0M1107.0,801.1V814.0M1109.0,803.2V815.0M1111.0,801.6V818.8M1113.0,798.0V820.2M1115.0,792.7V809.5M1119.0,804.5V818.1M1121.0,799.7V815.9M1123.0,804.0V817.3M1125.0,801.8V816.9M1127.0,805.1V825.5M1129.0,796.5V817.6M1131.0,802.2V812.4M1133.0,805.1V813.5M1135.0,803.0V818.3M1137.0,804.5V811.7M1139.0,805.4V820.9M1141.0,792.4V817.7M1143.0,789.1V810.0M1145.0,801.9V811.3M1147.0,799.2V819.1M1149.0,794.0V817.6M1151.0,789.2V807.7M1153.0,800.9V813.3M1159.0,799.1V817.1M1161.0,797.2V823.6M1163.0,796.4V813.1M1165.0,798.5V817.6M1167.0,802.5V818.8M1169.0,804.7V817.7M1171.0,801.3V824.3M1175.0,800.9V823.1M1177.0,796.7V821.6M1179.0,808.9V827.3M1181.0,806.4V820.5M1183.0,795.4V819.1M1185.0,798.6V818.8M1187.0,802.2V824.2M1189.0,803.4V820.3M1191.0,795.7V821.4M1193.0,806.4V821.6M1195.0,803.3V818.9M1197.0,795.6V828.9M1199.0,810.3V825.6M1201.0,802.9V819.3M1203.0,810.9V822.4M1205.0,807.3V822.0M1207.0,796.8V813.9M1209.0,796.6V809.5M1211.0,805.1V816.2M1213.0,798.1V824.0M1215.0,806.1V821.9M1217.0,785.2V818.0M1219.0,807.7V827.3M1221.0,801.4V814.6M1223.0,805.2V824.3M1225.0,797.5V827.8M1227.0,801.1V822.3M1229.0,800.0V822.6M1231.0,811.0V825.7M1233.0,811.5V830.2M1235.0,812.4V827.7M1237.0,802.8V818.9M1239.0,807.2V820.8M1241.0,803.4V821.5M1243.0,798.1V821.3M1247.0,811.5V836.2M1249.0,807.0V818.3M1251.0,805.7V827.6M1253.0,802.2V840.3M1255.0,806.2V838.0M1257.0,816.2V834.8M1259.0,807.2V830.1M1261.0,815.0V826.5M1263.0,817.4V825.0M1265.0,813.3V827.3M1267.0,812.6V831.9M1269.0,807.9V838.5M1271.0,805.0V831.8M1273.0,807.7V832.6M1275.0,806.5V827.0M1277.0,803.5V825.7M1279.0,811.8V821.6M1281.0,813.1V827.7M1283.0,806.1V825.7M1285.0,809.0V837.0M1287.0,808.6V829.9M1289.0,811.5V825.9M1291.0,814.4V831.5M1295.0,810.2V828.9M1297.0,807.1V826.1M1299.0,810.4V827.2M1301.0,809.7V832.6M1303.0,809.9V824.3M1305.0,808.1V825.7M1307.0,806.2V827.9M1309.0,806.4V817.7M1311.0,794.7V832.6M1313.0,815.0V835.2M1315.0,818.4V832.1M1317.0,803.9V833.7M1319.0,815.7V831.8M1321.0,809.7V823.3M1323.0,816.2V833.7M1325.0,817.8V838.3M1327.0,812.1V827.4M1329.0,810.2V834.1M1331.0,808.7V833.0M1333.0,807.0V827.9M1335.0,815.7V829.6M1337.0,814.1V841.0M1338.6,805.9V823.9" stroke="#f04343"/>
<path d="M35.4,680.6V688.1M37.0,669.2V688.2M39.0,663.4V704.2M41.0,655.7V693.5M43.0,663.0V683.8M45.0,672.4V694.4M47.0,677.3V692.3M49.0,662.1V707.7M51.0,674.4V686.0M53.0,664.0V693.0M55.0,664.2V688.1M57.0,664.0V684.3M59.0,657.7V684.6M61.0,661.9V677.5M63.0,656.2V687.1M65.0,666.4V701.2M67.0,652.1V682.9M69.0,664.4V680.3M71.0,658.7V678.5M73.0,656.8V680.6M75.0,657.5V691.6M77.0,666.4V682.4M79.0,663.4V688.9M81.0,635.7V689.7M83.0,661.5V686.5M85.0,644.6V677.8M87.0,644.3V688.7M89.0,650.4V669.5M91.0,659.2V678.3M93.0,655.7V673.5M95.0,636.0V670.9M97.0,650.8V667.6M99.0,643.4V662.8M101.0,646.3V690.2M103.0,649.2V664.0M105.0,634.3V650.5M107.0,631.0V652.0M109.0,635.0V646.4M111.0,624.2V644.5M113.0,613.3V661.5M115.0,612.2V626.3M117.0,602.8V619.3M119.0,599.4V638.7M121.0,603.2V622.7M123.0,594.2V625.6M125.0,579.5V622.0M127.0,587.4V616.4M129.0,571.9V625.2M131.0,563.0V615.0M133.0,586.3V613.5M135.0,592.3V609.4M137.0,597.4V612.7M139.0,599.3V619.9M141.0,613.9V638.5M143.0,614.9V630.0M145.0,614.9V636.4M147.0,615.2V646.3M149.0,624.4V640.2M151.0,625.5V648.9M153.0,626.4V653.4M155.0,634.0V652.3M157.0,631.2V646.4M159.0,630.7V661.7M161.0,642.7V662.3M163.0,636.8V668.4M165.0,642.2V663.6M167.0,630.5V663.5M169.0,635.0V663.0M171.0,636.8V665.4M173.0,642.9V666.2M175.0,635.7V664.4M177.0,644.7V684.6M179.0,642.0V664.3M181.0,652.3V686.7M183.0,650.8V668.5M185.0,639.5V673.8M187.0,656.7V662.3M189.0,635.6V673.9M191.0,646.2V666.2M193.0,643.2V665.8M195.0,649.0V680.7M197.0,664.3V683.0M199.0,659.9V682.8M201.0,655.8V674.8M203.0,648.3V668.6M205.0,664.9V687.7M207.0,655.4V670.7M209.0,654.7V683.8M211.0,669.0V686.4M213.0,668.3V689.1M215.0,655.2V690.9M217.0,652.3V688.5M219.0,651.8V684.3M221.0,661.9V686.7M223.0,667.3V680.6M225.0,658.2V682.3M227.0,669.2V697.3M229.0,667.3V691.6M231.0,658.0V672.9M233.0,655.5V683.2M235.0,668.7V680.6M237.0,668.8V689.0M239.0,668.0V681.9M241.0,650.3V690.3M243.0,669.1V689.0M245.0,661.8V678.6M247.0,657.7V684.1M249.0,634.5V690.2M251.0,654.9V679.5M253.0,669.6V690.9M255.0,666.3V691.1M257.0,661.7V681.6M259.0,663.4V680.2M261.0,660.8V691.4M263.0,669.5V681.7M265.0,663.3V680.4M267.0,654.6V689.2M269.0,657.9V674.7M271.0,653.2V682.2M273.0,670.8V684.7M275.0,669.5V684.2M277.0,658.4V693.9M279.0,665.4V689.0M281.0,662.7V679.1M283.0,649.7V682.6M285.0,671.9V688.8M287.0,658.6V689.6M289.0,655.5V691.8M291.0,650.5V691.4M293.0,664.5V691.8M295.0,667.5V694.8M297.0,670.4V697.1M299.0,664.4V687.3M301.0,658.0V679.8M303.0,666.8V690.6M305.0,662.3V705.8M307.0,663.0V696.9M309.0,659.8V699.6M311.0,659.7V685.0M313.0,646.2V695.0M315.0,650.7V678.4M317.0,659.2V682.2M319.0,645.7V687.4M321.0,664.1V689.0M323.0,649.7V685.1M325.0,667.6V682.3M327.0,666.1V688.9M329.0,647.5V674.5M331.0,651.5V684.9M333.0,659.8V693.6M335.0,661.6V687.3M337.0,675.7V694.7M339.0,669.3V686.8M341.0,671.1V689.9M343.0,663.2V685.6M345.0,648.7V689.8M347.0,667.3V697.7M349.0,667.9V690.2M351.0,665.9V684.4M353.0,665.2V687.9M355.0,665.8V683.4M357.0,664.4V683.5M359.0,664.8V697.4M361.0,661.2V682.1M363.0,670.5V698.3M365.0,664.0V698.9M367.0,668.6V701.8M369.0,655.1V682.3M371.0,657.5V683.0M373.0,669.5V685.6M375.0,645.8V689.9M377.0,651.4V685.8M379.0,671.6V695.1M381.0,662.0V700.6M383.0,676.7V698.8M385.0,661.3V689.3M387.0,660.1V687.1M389.0,666.2V688.5M391.0,670.2V680.3M393.0,670.5V683.3M395.0,667.1V684.4M397.0,671.5V695.0M399.0,671.9V675.4M401.0,642.6V680.5M403.0,659.5V682.4M405.0,659.7V706.9M407.0,658.6V694.9M409.0,662.6V674.2M411.0,664.7V686.3M413.0,652.9V690.3M415.0,654.5V683.7M417.0,666.8V684.5M419.0,655.3V677.3M421.0,648.6V685.2M423.0,642.0V684.4M425.0,659.3V684.9M427.0,653.7V688.2M429.0,663.2V681.9M431.0,674.1V695.4M433.0,660.5V679.2M435.0,658.6V692.9M437.0,667.5V702.5M439.0,675.2V691.2M441.0,666.4V685.0M443.0,664.7V688.6M445.0,657.4V692.7M447.0,671.2V702.3M449.0,656.7V691.3M451.0,670.6V694.7M453.0,674.9V690.4M455.0,663.0V697.5M457.0,679.8V701.0M459.0,672.1V685.7M461.0,673.8V694.4M463.0,664.8V689.5M465.0,666.9V682.7M467.0,664.7V691.8M469.0,671.3V685.4M471.0,669.1V702.1M473.0,682.3V699.2M475.0,663.7V705.2M477.0,674.5V694.5M479.0,672.8V701.6M481.0,671.4V685.0M483.0,662.3V683.5M485.0,665.6V688.9M487.0,658.8V697.5M489.0,643.0V696.2M491.0,670.6V692.6M493.0,677.0V709.4M495.0,675.8V700.7M497.0,673.7V700.3M499.0,673.8V691.7M501.0,680.8V694.3M503.0,676.6V703.6M505.0,678.0V694.9M507.0,668.6V701.7M509.0,671.5V701.0M511.0,670.8V704.8M513.0,675.1V696.2M515.0,671.8V695.2M517.0,677.5V710.3M519.0,683.3V704.0M521.0,687.5V704.2M523.0,679.2V694.0M525.0,676.4V687.3M527.0,681.3V697.1M529.0,668.6V696.1M531.0,677.9V698.2M533.0,677.8V695.6M535.0,671.2V702.7M537.0,682.5V706.0M539.0,679.6V702.7M541.0,675.5V704.3M543.0,665.8V700.6M545.0,674.3V694.3M547.0,687.0V698.0M549.0,678.0V715.3M551.0,675.4V700.1M553.0,670.5V706.1M555.0,674.0V703.7M557.0,674.8V707.1M559.0,674.5V700.3M561.0,677.3V688.4M563.0,668.8V706.3M565.0,665.1V696.9M567.0,662.7V688.6M569.0,650.6V679.4M571.0,648.1V683.5M573.0,642.5V671.0M575.0,637.1V655.8M577.0,618.9V655.6M579.0,615.4V634.9M581.0,610.0V635.9M583.0,594.8V610.0M585.0,582.5V599.6M587.0,560.1V582.5M589.0,534.0V560.1M591.0,496.0V534.0M593.0,456.2V496.0M595.0,418.7V456.2M597.0,382.6V418.7M599.0,315.7V382.6M601.0,258.6V315.7M603.0,211.9V258.6M605.0,175.7V211.9M607.0,141.7V175.7M609.0,97.8V141.7M611.0,66.8V97.8M613.0,76.6V102.8M615.0,102.8V133.7M617.0,133.7V170.5M619.0,170.5V207.7M621.0,207.7V257.2M623.0,257.2V311.3M625.0,311.3V369.5M627.0,369.5V422.1M629.0,422.1V468.4M631.0,468.4V506.2M633.0,506.2V519.8M635.0,519.1V546.7M637.0,546.7V566.2M639.0,564.0V578.3M641.0,575.9V588.8M643.0,578.9V596.7M645.0,595.1V618.3M647.0,603.7V622.1M649.0,606.3V618.3M651.0,595.5V642.3M653.0,618.2V627.7M655.0,601.7V635.0M657.0,616.1V646.5M659.0,629.4V659.1M661.0,602.7V647.6M663.0,623.6V647.2M665.0,626.6V650.5M667.0,618.2V654.0M669.0,630.4V650.4M671.0,622.7V652.7M673.0,628.9V668.0M675.0,627.9V664.6M677.0,628.9V671.8M679.0,634.2V654.9M681.0,640.0V677.7M683.0,624.1V655.8M685.0,642.1V668.6M687.0,638.6V675.3M689.0,620.6V678.7M691.0,652.5V674.3M693.0,636.8V678.0M695.0,634.0V684.2M697.0,643.9V692.3M699.0,642.8V674.6M701.0,630.1V682.2M703.0,653.8V680.6M705.0,654.2V681.6M707.0,657.2V679.8M709.0,642.7V679.4M711.0,652.9V677.2M713.0,658.3V689.0M715.0,651.2V689.2M717.0,648.9V672.2M719.0,655.7V685.6M721.0,658.3V687.2M723.0,664.8V705.9M725.0,665.1V692.4M727.0,658.9V701.8M729.0,658.8V695.7M731.0,673.4V695.6M733.0,668.8V694.6M735.0,661.7V698.6M737.0,665.3V689.1M739.0,664.7V689.2M741.0,675.1V696.3M743.0,668.6V702.1M745.0,667.6V687.3M747.0,673.9V698.0M749.0,660.4V701.5M751.0,675.6V701.6M753.0,658.0V693.3M755.0,677.6V693.3M757.0,673.8V695.7M759.0,681.5V701.2M761.0,679.6V703.0M763.0,678.7V710.4M765.0,684.7V705.8M767.0,692.1V708.1M769.0,686.4V713.7M771.0,679.3V711.2M773.0,675.2V702.3M775.0,666.5V725.4M777.0,673.5V713.3M779.0,686.8V728.1M781.0,686.6V715.7M783.0,676.0V723.9M785.0,660.2V699.3M787.0,679.7V702.4M789.0,681.4V704.1M791.0,688.0V709.7M793.0,689.2V709.1M795.0,676.2V717.3M797.0,695.3V728.2M799.0,683.1V717.3M801.0,695.1V717.8M803.0,690.8V708.6M805.0,680.6V702.6M807.0,692.3V713.4M809.0,688.4V712.1M811.0,689.2V722.0M813.0,677.5V716.2M815.0,681.0V703.5M817.0,680.9V704.2M819.0,667.2V719.8M821.0,670.8V709.5M823.0,685.9V709.9M825.0,699.5V719.4M827.0,687.7V709.1M829.0,684.2V710.2M831.0,683.8V716.4M833.0,676.6V709.5M835.0,686.6V707.9M837.0,684.1V717.9M839.0,684.6V713.5M841.0,684.4V699.9M843.0,678.9V710.8M845.0,697.6V714.3M847.0,692.3V714.3M849.0,693.5V712.2M851.0,706.4V718.2M853.0,689.6V719.7M855.0,686.9V723.6M857.0,697.8V717.6M859.0,692.7V716.9M861.0,689.3V716.5M863.0,695.9V719.8M865.0,702.6V728.1M867.0,701.7V739.9M869.0,701.2V724.2M871.0,701.0V719.9M873.0,691.5V708.1M875.0,704.2V731.6M877.0,693.8V718.4M879.0,694.9V723.3M881.0,691.4V716.2M883.0,697.3V719.1M885.0,694.9V726.8M887.0,701.3V727.7M889.0,693.0V713.5M891.0,692.2V737.6M893.0,703.7V721.9M895.0,695.9V721.9M897.0,702.5V717.7M899.0,704.4V721.5M901.0,704.9V729.9M903.0,701.5V723.7M905.0,706.3V730.0M907.0,691.2V710.5M909.0,682.5V722.9M911.0,699.4V737.0M913.0,699.3V718.2M915.0,697.7V721.5M917.0,689.3V719.8M919.0,704.4V727.3M921.0,703.8V727.1M923.0,704.7V731.6M925.0,712.3V733.4M927.0,702.9V731.0M929.0,699.1V721.6M931.0,698.5V724.8M933.0,681.9V727.7M935.0,707.9V726.7M937.0,705.2V726.3M939.0,704.2V715.9M941.0,703.8V727.0M943.0,697.9V734.9M945.0,704.9V731.8M947.0,704.4V727.7M949.0,698.9V722.6M951.0,696.0V725.8M953.0,706.8V723.8M955.0,707.4V732.5M957.0,706.7V731.5M959.0,704.8V724.4M961.0,704.5V724.0M963.0,702.5V721.6M965.0,692.6V723.0M967.0,710.6V737.5M969.0,688.9V724.7M971.0,709.2V727.7M973.0,699.7V743.2M975.0,702.6V731.4M977.0,706.7V731.5M979.0,709.8V735.9M981.0,705.9V716.3M983.0,716.3V731.3M985.0,704.3V737.4M987.0,696.9V735.8M989.0,696.6V729.2M991.0,703.6V728.2M993.0,693.1V722.6M995.0,698.2V728.8M997.0,699.4V717.6M999.0,703.0V732.1M1001.0,709.5V731.2M1003.0,705.5V738.7M1005.0,696.1V729.8M1007.0,702.5V733.6M1009.0,690.7V732.4M1011.0,695.4V733.7M1013.0,710.6V727.7M1015.0,690.1V726.0M1017.0,692.8V731.3M1019.0,706.6V717.6M1021.0,697.9V723.2M1023.0,705.8V717.6M1025.0,699.7V716.7M1027.0,704.3V725.7M1029.0,704.7V722.4M1031.0,701.9V739.6M1033.0,716.0V752.5M1035.0,710.2V729.2M1037.0,708.4V733.7M1039.0,709.4V728.0M1041.0,705.9V726.5M1043.0,700.6V724.3M1045.0,703.1V722.3M1047.0,703.3V737.3M1049.0,692.4V733.8M1051.0,711.3V734.3M1053.0,705.8V725.3M1055.0,692.9V723.8M1057.0,706.0V728.4M1059.0,703.3V722.2M1061.0,705.3V723.8M1063.0,711.6V733.0M1065.0,711.6V734.2M1067.0,698.8V736.6M1069.0,705.6V720.8M1071.0,708.1V722.2M1073.0,698.8V726.7M1075.0,691.0V725.5M1077.0,705.5V717.7M1079.0,701.8V733.4M1081.0,717.3V738.7M1083.0,714.0V734.0M1085.0,700.1V733.1M1087.0,697.8V733.6M1089.0,710.4V736.9M1091.0,711.0V727.4M1093.0,705.8V735.5M1095.0,700.1V711.9M1097.0,706.7V721.0M1099.0,713.3V717.9M1101.0,708.5V724.4M1103.0,700.6V732.3M1105.0,699.5V720.3M1107.0,707.4V744.5M1109.0,711.2V723.2M1111.0,715.0V731.3M1113.0,700.4V731.0M1115.0,703.1V727.5M1117.0,701.5V733.4M1119.0,701.2V729.1M1121.0,716.3V732.4M1123.0,706.2V722.6M1125.0,722.6V739.1M1127.0,718.3V735.2M1129.0,718.8V733.1M1131.0,723.4V735.2M1133.0,712.1V732.9M1135.0,713.7V740.3M1137.0,721.7V735.1M1139.0,723.0V732.1M1141.0,724.1V737.8M1143.0,725.5V749.4M1145.0,722.7V748.7M1147.0,723.4V741.9M1149.0,722.0V735.8M1151.0,724.5V740.2M1153.0,732.3V737.2M1155.0,719.4V745.0M1157.0,718.1V744.9M1159.0,728.8V745.4M1161.0,723.1V747.5M1163.0,722.7V741.0M1165.0,722.7V739.4M1167.0,726.7V745.8M1169.0,714.6V739.7M1171.0,727.3V744.2M1173.0,725.8V749.0M1175.0,729.3V746.2M1177.0,725.3V756.6M1179.0,729.9V740.9M1181.0,729.2V746.0M1183.0,726.4V744.0M1185.0,720.8V750.4M1187.0,723.8V752.8M1189.0,731.2V738.9M1191.0,722.7V740.0M1193.0,726.8V743.6M1195.0,725.8V742.5M1197.0,729.3V738.9M1199.0,735.2V742.4M1201.0,723.2V743.9M1203.0,731.0V742.8M1205.0,732.0V754.0M1207.0,724.5V749.1M1209.0,728.8V751.0M1211.0,725.8V740.9M1213.0,725.2V738.2M1215.0,726.2V740.8M1217.0,723.7V738.2M1219.0,731.4V745.4M1221.0,719.6V737.3M1223.0,729.2V742.2M1225.0,726.7V737.9M1227.0,727.1V751.9M1229.0,725.3V738.4M1231.0,728.6V744.8M1233.0,731.0V743.3M1235.0,728.1V745.7M1237.0,719.4V738.5M1239.0,723.8V738.9M1241.0,722.6V742.3M1243.0,732.2V751.3M1245.0,716.2V745.0M1247.0,733.4V745.0M1249.0,732.1V751.0M1251.0,724.6V742.7M1253.0,729.1V743.8M1255.0,731.3V743.1M1257.0,726.3V743.4M1259.0,736.2V741.7M1261.0,732.8V753.7M1263.0,732.3V745.9M1265.0,727.7V744.0M1267.0,722.4V747.4M1269.0,730.3V755.9M1271.0,728.7V732.9M1273.0,730.2V739.9M1275.0,730.2V741.5M1277.0,732.5V749.1M1279.0,722.9V743.3M1281.0,728.8V746.8M1283.0,729.2V753.6M1285.0,729.8V752.6M1287.0,723.8V747.2M1289.0,725.3V746.4M1291.0,730.9V737.5M1293.0,724.7V741.5M1295.0,726.6V740.8M1297.0,721.1V738.2M1299.0,723.2V742.5M1301.0,723.3V739.0M1303.0,724.1V743.0M1305.0,724.4V743.3M1307.0,726.6V747.6M1309.0,722.8V754.0M1311.0,731.6V745.7M1313.0,726.2V741.5M1315.0,735.8V743.3M1317.0,713.3V747.4M1319.0,722.3V743.0M1321.0,718.6V746.2M1323.0,725.3V740.1M1325.0,731.1V747.0M1327.0,735.3V749.3M1329.0,729.9V746.5M1331.0,727.9V747.8M1333.0,736.9V753.2M1335.0,727.7V738.0M1337.0,722.5V747.5M1338.6,732.1V744.8" stroke="#a8a8a8"/>
<path d="M35.4,680.8V686.6M37.0,670.8V688.1M39.0,664.8V703.3M41.0,660.1V690.9M43.0,666.1V683.2M45.0,673.3V693.5M47.0,677.3V690.5M49.0,664.6V702.9M51.0,674.6V685.1M53.0,664.4V691.0M55.0,666.2V687.3M57.0,664.0V683.5M59.0,660.0V682.8M61.0,663.0V677.1M63.0,658.6V682.3M65.0,666.7V694.6M67.0,655.5V679.7M69.0,664.8V679.9M73.0,657.5V680.0M75.0,661.5V689.3M77.0,667.5V682.4M81.0,636.0V686.2M83.0,661.6V685.5M85.0,647.6V674.2M87.0,644.3V687.8M89.0,651.1V669.1M91.0,660.7V676.7M95.0,641.9V669.9M97.0,652.3V667.4M101.0,646.7V685.5M103.0,650.3V663.5M105.0,635.8V650.2M107.0,632.9V649.5M109.0,635.5V646.0M111.0,624.8V643.9M113.0,614.5V653.6M115.0,613.7V624.7M117.0,603.8V619.2M119.0,600.3V635.0M121.0,605.1V620.9M123.0,594.6V624.8M125.0,584.3V619.4M127.0,589.2V614.2M129.0,575.8V624.9M131.0,569.4V613.6M133.0,586.8V608.9M135.0,593.0V607.2M137.0,597.5V612.0M139.0,599.9V619.7M141.0,614.2V636.7M143.0,616.2V629.1M145.0,615.4V635.0M147.0,616.8V642.4M149.0,624.8V639.4M151.0,627.5V648.4M153.0,626.8V651.8M155.0,635.1V650.2M157.0,632.0V645.2M159.0,631.7V659.8M161.0,642.8V661.4M165.0,644.0V663.6M167.0,634.7V663.5M169.0,635.4V662.5M173.0,644.5V666.0M175.0,639.4V664.4M177.0,645.6V679.6M179.0,642.7V663.8M181.0,654.1V682.8M183.0,650.9V667.1M185.0,642.6V670.5M187.0,656.7V662.0M189.0,637.4V669.9M195.0,651.3V677.9M197.0,664.5V681.5M201.0,657.9V673.5M203.0,649.1V668.3M205.0,665.8V685.6M207.0,656.6V670.2M209.0,655.6V683.6M211.0,670.8V685.5M213.0,668.9V686.8M215.0,657.8V688.3M217.0,652.5V687.2M219.0,651.9V682.9M221.0,663.1V684.3M223.0,667.4V678.8M225.0,660.5V681.9M227.0,669.6V695.2M229.0,667.5V690.9M231.0,658.2V672.0M233.0,656.2V682.9M235.0,668.7V680.3M237.0,668.8V687.8M239.0,669.0V681.3M241.0,653.9V687.0M243.0,669.5V687.7M245.0,663.9V677.5M247.0,660.6V683.8M251.0,659.2V678.7M253.0,670.3V690.7M255.0,668.4V690.6M257.0,661.9V680.8M259.0,663.6V677.5M261.0,661.7V688.5M265.0,664.3V679.9M267.0,657.0V687.3M269.0,659.1V674.4M271.0,656.2V680.3M273.0,671.5V684.2M277.0,660.8V692.6M279.0,666.0V685.7M281.0,663.1V678.0M283.0,651.5V682.5M285.0,673.8V687.6M287.0,659.4V689.4M289.0,655.5V691.7M291.0,654.0V690.8M293.0,665.0V687.2M295.0,669.0V693.1M297.0,672.7V696.5M299.0,664.5V687.1M301.0,658.3V676.9M303.0,667.1V687.6M305.0,664.4V699.6M307.0,664.1V695.0M309.0,660.3V696.4M311.0,660.2V683.6M313.0,651.5V692.7M315.0,652.7V676.5M317.0,660.9V680.8M319.0,650.8V686.1M321.0,666.0V689.0M323.0,655.9V684.1M325.0,668.3V681.2M327.0,666.5V688.4M331.0,652.7V684.0M333.0,661.3V690.8M337.0,675.8V692.7M339.0,669.3V685.9M341.0,672.7V689.1M343.0,664.1V683.6M345.0,650.3V687.6M347.0,669.9V695.3M349.0,668.3V689.4M351.0,666.8V684.0M353.0,669.3V687.8M355.0,667.5V683.3M359.0,665.0V692.4M361.0,662.3V681.4M363.0,671.3V695.5M365.0,664.2V693.1M367.0,669.4V701.0M369.0,655.7V681.0M371.0,658.5V682.7M373.0,669.9V685.5M375.0,652.2V686.3M377.0,655.1V685.3M379.0,672.6V694.5M381.0,663.8V698.6M383.0,676.7V696.4M385.0,662.6V686.0M387.0,663.1V684.1M389.0,667.2V686.4M391.0,670.4V679.0M393.0,670.7V682.8M397.0,671.9V692.7M399.0,671.9V675.4M401.0,647.4V680.1M403.0,660.5V681.2M405.0,660.8V702.9M407.0,659.7V693.9M409.0,663.5V673.7M411.0,665.1V684.0M413.0,653.3V688.5M415.0,655.4V681.5M417.0,667.8V683.9M419.0,656.9V676.0M421.0,652.1V682.0M423.0,643.6V683.4M425.0,662.4V684.8M427.0,658.8V687.4M429.0,663.2V681.8M431.0,674.5V692.0M433.0,662.3V677.9M435.0,660.1V690.1M437.0,668.1V699.8M439.0,675.3V690.8M441.0,667.6V684.8M445.0,662.6V692.0M447.0,672.4V699.2M449.0,659.4V689.0M453.0,676.5V690.2M455.0,667.0V695.8M457.0,679.9V699.6M459.0,672.6V685.0M461.0,675.1V693.2M463.0,665.3V688.4M465.0,668.2V682.0M467.0,667.1V689.0M469.0,673.2V685.2M471.0,669.9V701.4M473.0,683.0V698.9M475.0,667.0V704.6M479.0,673.7V699.8M481.0,673.3V684.8M483.0,663.1V682.4M485.0,667.4V687.2M487.0,661.3V696.7M489.0,649.4V692.6M495.0,676.2V698.7M497.0,674.6V699.7M499.0,674.7V690.5M501.0,680.9V693.0M503.0,677.7V700.2M505.0,678.0V693.4M507.0,670.3V698.2M509.0,672.5V700.6M511.0,671.4V703.4M513.0,675.4V695.5M515.0,673.5V694.3M517.0,679.9V707.2M519.0,684.9V703.9M521.0,688.5V704.1M523.0,681.1V693.6M525.0,677.5V687.3M529.0,670.2V696.1M531.0,680.1V697.7M533.0,678.5V695.0M535.0,672.6V700.9M537.0,683.4V705.0M539.0,680.0V702.0M541.0,679.4V703.7M543.0,667.6V696.3M545.0,675.3V693.3M547.0,687.1V697.0M549.0,680.1V709.6M551.0,677.1V698.1M553.0,671.4V700.4M555.0,675.7V700.4M557.0,676.9V706.2M559.0,676.0V699.9M563.0,670.2V703.9M565.0,665.9V694.7M567.0,663.1V686.6M569.0,652.3V677.1M571.0,648.9V681.9M575.0,637.9V655.3M577.0,620.0V651.8M579.0,615.4V633.9M581.0,611.4V632.9M583.0,595.1V609.8M585.0,582.9V598.7M587.0,561.1V582.3M589.0,534.1V558.8M591.0,497.4V532.4M593.0,456.9V495.2M595.0,420.4V454.0M597.0,383.5V418.4M599.0,315.9V381.3M601.0,260.3V311.9M603.0,212.4V257.6M605.0,177.1V210.1M607.0,142.5V175.4M609.0,97.8V140.7M611.0,66.8V95.5M613.0,76.7V102.3M615.0,104.4V132.1M617.0,134.0V169.4M619.0,172.0V207.6M621.0,210.2V255.5M623.0,258.2V310.5M625.0,313.7V366.9M627.0,370.0V420.8M629.0,423.9V468.3M631.0,470.5V505.7M633.0,506.5V519.6M635.0,520.9V545.3M637.0,547.0V565.7M639.0,564.9V577.7M641.0,576.5V588.7M643.0,581.4V596.5M645.0,596.1V615.5M647.0,605.7V621.9M649.0,607.3V617.0M651.0,599.4V640.4M653.0,618.4V627.5M655.0,604.4V634.7M657.0,617.1V644.7M659.0,631.1V656.4M661.0,606.6V645.4M663.0,624.6V646.2M665.0,627.3V648.7M667.0,622.7V653.2M669.0,630.4V650.4M671.0,624.7V652.2M673.0,630.9V664.1M675.0,630.1V663.1M677.0,632.4V669.4M679.0,635.2V654.7M681.0,641.3V672.6M683.0,625.4V655.7M685.0,642.5V668.1M687.0,639.4V673.4M689.0,627.0V675.9M691.0,653.8V672.8M693.0,636.8V675.6M695.0,634.7V680.4M699.0,643.2V670.5M701.0,630.2V676.7M703.0,655.4V679.3M705.0,654.7V680.1M707.0,657.7V679.2M709.0,644.4V678.9M711.0,654.8V675.4M713.0,658.6V684.9M717.0,650.0V671.4M719.0,656.3V685.6M721.0,662.2V686.8M723.0,665.1V701.3M725.0,665.1V689.1M727.0,660.3V694.5M729.0,659.4V695.7M731.0,674.3V694.1M733.0,670.0V693.2M735.0,665.9V698.6M737.0,667.2V686.7M739.0,667.3V688.5M741.0,676.0V695.7M743.0,669.3V700.4M745.0,669.2V687.1M747.0,674.1V697.5M749.0,664.3V697.7M751.0,679.1V701.6M753.0,661.4V693.0M755.0,677.7V693.3M757.0,674.8V694.8M759.0,682.0V701.0M761.0,680.0V700.6M763.0,679.4V709.3M765.0,685.3V703.3M767.0,692.3V708.0M769.0,686.9V710.0M771.0,681.5V709.0M775.0,668.2V718.5M777.0,673.9V710.9M781.0,686.6V714.2M783.0,681.5V720.2M785.0,668.5V699.3M787.0,680.1V700.7M791.0,688.0V709.5M795.0,681.8V716.9M797.0,697.9V725.6M799.0,683.7V717.1M801.0,696.4V717.6M803.0,691.1V707.7M805.0,683.4V702.2M807.0,693.0V711.8M809.0,690.5V711.9M811.0,690.2V715.9M813.0,678.4V714.9M815.0,682.0V702.4M817.0,682.0V704.2M819.0,671.9V715.9M821.0,674.7V705.9M823.0,686.0V707.3M825.0,700.2V719.2M827.0,690.5V709.0M829.0,687.0V710.1M831.0,683.9V716.2M833.0,680.6V709.1M835.0,686.9V706.1M837.0,685.0V716.8M839.0,686.9V711.9M841.0,684.4V699.8M843.0,682.9V707.5M845.0,697.9V714.0M849.0,694.5V712.1M851.0,707.4V717.9M853.0,694.2V719.0M855.0,689.1V722.2M857.0,699.4V716.7M859.0,695.1V716.8M861.0,693.1V715.4M865.0,703.4V725.6M867.0,701.7V738.4M869.0,701.2V721.3M871.0,701.1V719.2M873.0,694.0V707.9M875.0,704.5V728.7M877.0,697.8V718.0M879.0,697.8V721.7M881.0,691.7V715.3M883.0,698.2V717.1M887.0,703.2V727.4M889.0,694.7V712.8M891.0,692.4V731.3M893.0,704.8V719.5M895.0,696.9V720.0M899.0,704.8V720.5M901.0,705.2V728.8M903.0,701.6V723.4M905.0,706.7V726.3M907.0,693.7V709.8M909.0,688.6V721.4M911.0,702.5V734.0M913.0,699.8V718.0M915.0,698.3V718.9M917.0,693.8V719.6M919.0,706.6V725.7M921.0,703.9V725.3M923.0,705.2V730.2M925.0,714.6V731.5M927.0,704.3V728.7M929.0,700.4V721.0M931.0,699.0V723.3M933.0,686.0V725.5M935.0,708.5V725.7M937.0,707.6V726.2M939.0,705.7V715.6M941.0,703.9V726.0M943.0,699.9V734.1M945.0,705.6V729.3M947.0,704.9V726.9M949.0,701.9V722.0M951.0,699.9V725.3M953.0,706.9V723.3M955.0,707.7V730.3M957.0,707.7V729.8M959.0,705.6V724.1M961.0,705.3V723.8M963.0,702.7V720.3M965.0,695.3V722.8M967.0,711.8V736.0M969.0,695.5V724.6M971.0,709.4V726.6M973.0,700.4V738.4M975.0,705.2V728.8M977.0,707.2V730.9M979.0,709.9V734.8M981.0,706.5V715.2M983.0,716.4V729.8M985.0,706.1V737.0M987.0,700.5V735.6M989.0,698.1V726.8M991.0,705.9V727.9M993.0,695.7V722.6M995.0,699.4V727.3M997.0,700.3V715.3M999.0,703.6V731.2M1003.0,706.1V736.1M1005.0,698.5V729.2M1007.0,705.7V732.7M1009.0,696.3V729.1M1011.0,696.9V733.4M1013.0,710.7V727.0M1017.0,695.1V728.5M1019.0,708.6V717.6M1025.0,699.9V716.2M1027.0,705.8V725.1M1029.0,705.0V721.0M1031.0,706.1V736.1M1033.0,716.2V749.2M1035.0,710.3V726.4M1037.0,709.0V730.1M1039.0,710.0V725.2M1041.0,707.2V725.2M1043.0,701.2V723.6M1045.0,703.4V722.1M1047.0,706.9V734.4M1049.0,696.3V732.7M1051.0,712.9V734.2M1053.0,706.1V723.5M1055.0,695.6V723.5M1057.0,707.3V727.5M1059.0,703.7V720.7M1061.0,705.7V723.4M1063.0,711.6V729.7M1065.0,711.6V732.1M1067.0,700.4V735.8M1069.0,706.0V720.7M1071.0,710.0V722.1M1073.0,701.2V726.4M1075.0,693.5V723.0M1077.0,706.7V717.2M1079.0,704.0V731.9M1081.0,717.6V736.0M1083.0,714.2V733.8M1085.0,703.6V731.7M1087.0,700.2V730.4M1089.0,710.8V733.2M1091.0,711.2V726.5M1093.0,705.9V735.3M1097.0,706.9V719.8M1099.0,713.4V717.4M1101.0,709.4V722.4M1103.0,701.6V729.2M1107.0,710.6V740.9M1109.0,711.4V721.7M1111.0,715.5V730.6M1113.0,701.0V730.5M1115.0,704.4V725.7M1117.0,701.9V732.8M1121.0,717.3V731.7M1123.0,707.2V722.3M1125.0,723.2V737.9M1127.0,718.8V733.3M1129.0,719.7V731.6M1131.0,723.6V734.6M1133.0,712.5V731.9M1137.0,723.0V735.0M1139.0,723.3V731.8M1141.0,724.1V737.2M1145.0,723.8V747.1M1147.0,724.2V739.8M1149.0,723.0V734.5M1151.0,725.2V740.0M1153.0,732.5V736.8M1155.0,720.1V743.6M1159.0,729.8V744.1M1161.0,723.7V747.0M1163.0,723.2V740.6M1165.0,722.9V738.7M1167.0,727.6V744.0M1169.0,719.2V739.4M1171.0,729.8V743.5M1173.0,726.0V746.3M1175.0,730.7V745.9M1179.0,730.0V740.9M1181.0,729.4V745.5M1183.0,726.9V743.4M1185.0,722.7V746.2M1187.0,725.3V750.6M1189.0,731.9V738.7M1191.0,723.7V740.0M1193.0,727.8V742.4M1197.0,729.5V738.2M1199.0,735.3V742.0M1201.0,724.5V741.7M1203.0,731.5V742.0M1205.0,732.2V752.7M1207.0,727.2V748.5M1209.0,729.1V748.0M1211.0,728.0V740.7M1213.0,725.4V737.8M1215.0,726.7V740.2M1217.0,724.1V737.5M1219.0,731.4V745.1M1221.0,722.0V736.9M1223.0,729.3V741.1M1225.0,728.4V737.5M1227.0,727.3V749.2M1229.0,725.4V737.0M1231.0,728.7V744.4M1233.0,731.6V742.9M1235.0,731.0V745.5M1237.0,720.1V737.4M1241.0,724.9V741.3M1243.0,733.6V749.9M1245.0,720.2V743.1M1247.0,733.4V743.4M1251.0,727.5V742.5M1253.0,729.5V741.8M1255.0,732.7V742.9M1257.0,727.6V743.0M1259.0,736.3V741.4M1261.0,733.0V750.6M1263.0,732.3V745.0M1265.0,728.0V741.1M1267.0,724.5V744.8M1269.0,732.0V754.9M1271.0,728.8V732.8M1273.0,730.4V739.1M1275.0,730.5V740.3M1279.0,724.3V741.4M1281.0,729.7V745.9M1283.0,729.4V753.4M1285.0,730.6V749.4M1289.0,726.2V743.6M1291.0,731.1V737.4M1293.0,725.2V740.0M1297.0,723.0V737.3M1299.0,725.7V741.0M1301.0,724.0V738.5M1303.0,724.2V742.3M1305.0,726.2V742.9M1307.0,727.4V745.9M1309.0,723.4V750.3M1311.0,733.0V744.5M1313.0,728.0V740.5M1319.0,724.3V742.6M1321.0,719.5V742.6M1323.0,725.7V740.0M1325.0,732.3V746.0M1327.0,735.6V748.7M1329.0,731.2V745.8M1331.0,728.4V747.5M1333.0,737.1V750.3M1335.0,728.5V738.0M1337.0,724.9V746.5M1338.6,732.1V743.6" stroke="#545454"/>
</g>
<g stroke="#000" stroke-width="3" fill="none">
<rect x="34.7" y="22.2" width="1304.5" height="1048.6"/>
<path d="M34.7,1070.8V1091M360.8,1070.8V1091M687,1070.8V1091M1013.1,1070.8V1091M1339.2,1070.8V1091M197.8,1070.8V1081M523.9,1070.8V1081M850,1070.8V1081M1176.1,1070.8V1081"/>
</g>
<g font-size="45" text-anchor="middle">
<text x="36" y="1138">10</text>
<text x="361" y="1138">20</text>
<text x="687" y="1138">30</text>
<text x="1013" y="1138">40</text>
<text x="1338" y="1138">50</text>
</g>
<text x="592" y="1226" font-size="56">2θ</text>
<text x="0" y="1223" font-size="48" transform="translate(640.9,0) scale(1.2,1)" style="font-family:'Liberation Serif','Noto Serif CJK SC',serif">（</text>
<text x="700" y="1231" font-size="63">°</text>
<text x="0" y="1223" font-size="48" transform="translate(727.9,0) scale(1.2,1)" style="font-family:'Liberation Serif','Noto Serif CJK SC',serif">）</text>
<text x="416.5" y="125" font-size="79">(002)</text>
<text x="64" y="553.6" font-size="79">(100)</text>
<g stroke-width="2.2" fill="none">
<path d="M789.8,192.9H913.2" stroke="#9a9a9a"/>
<path d="M789.8,273.4H913.2" stroke="#f47c7c"/>
<path d="M789.8,351.8H913.2" stroke="#3f82ea"/>
</g>
<g font-size="55">
<text x="924" y="211">g-C<tspan font-size="36" dy="15">3</tspan><tspan dy="-15">N</tspan><tspan font-size="36" dy="15">4</tspan></text>
<text x="924" y="291">FeOOH/g-C<tspan font-size="36" dy="15">3</tspan><tspan dy="-15">N</tspan><tspan font-size="36" dy="15">4</tspan></text>
<text x="924" y="371">FeOOH</text>
</g>
</svg>
</body></html>
